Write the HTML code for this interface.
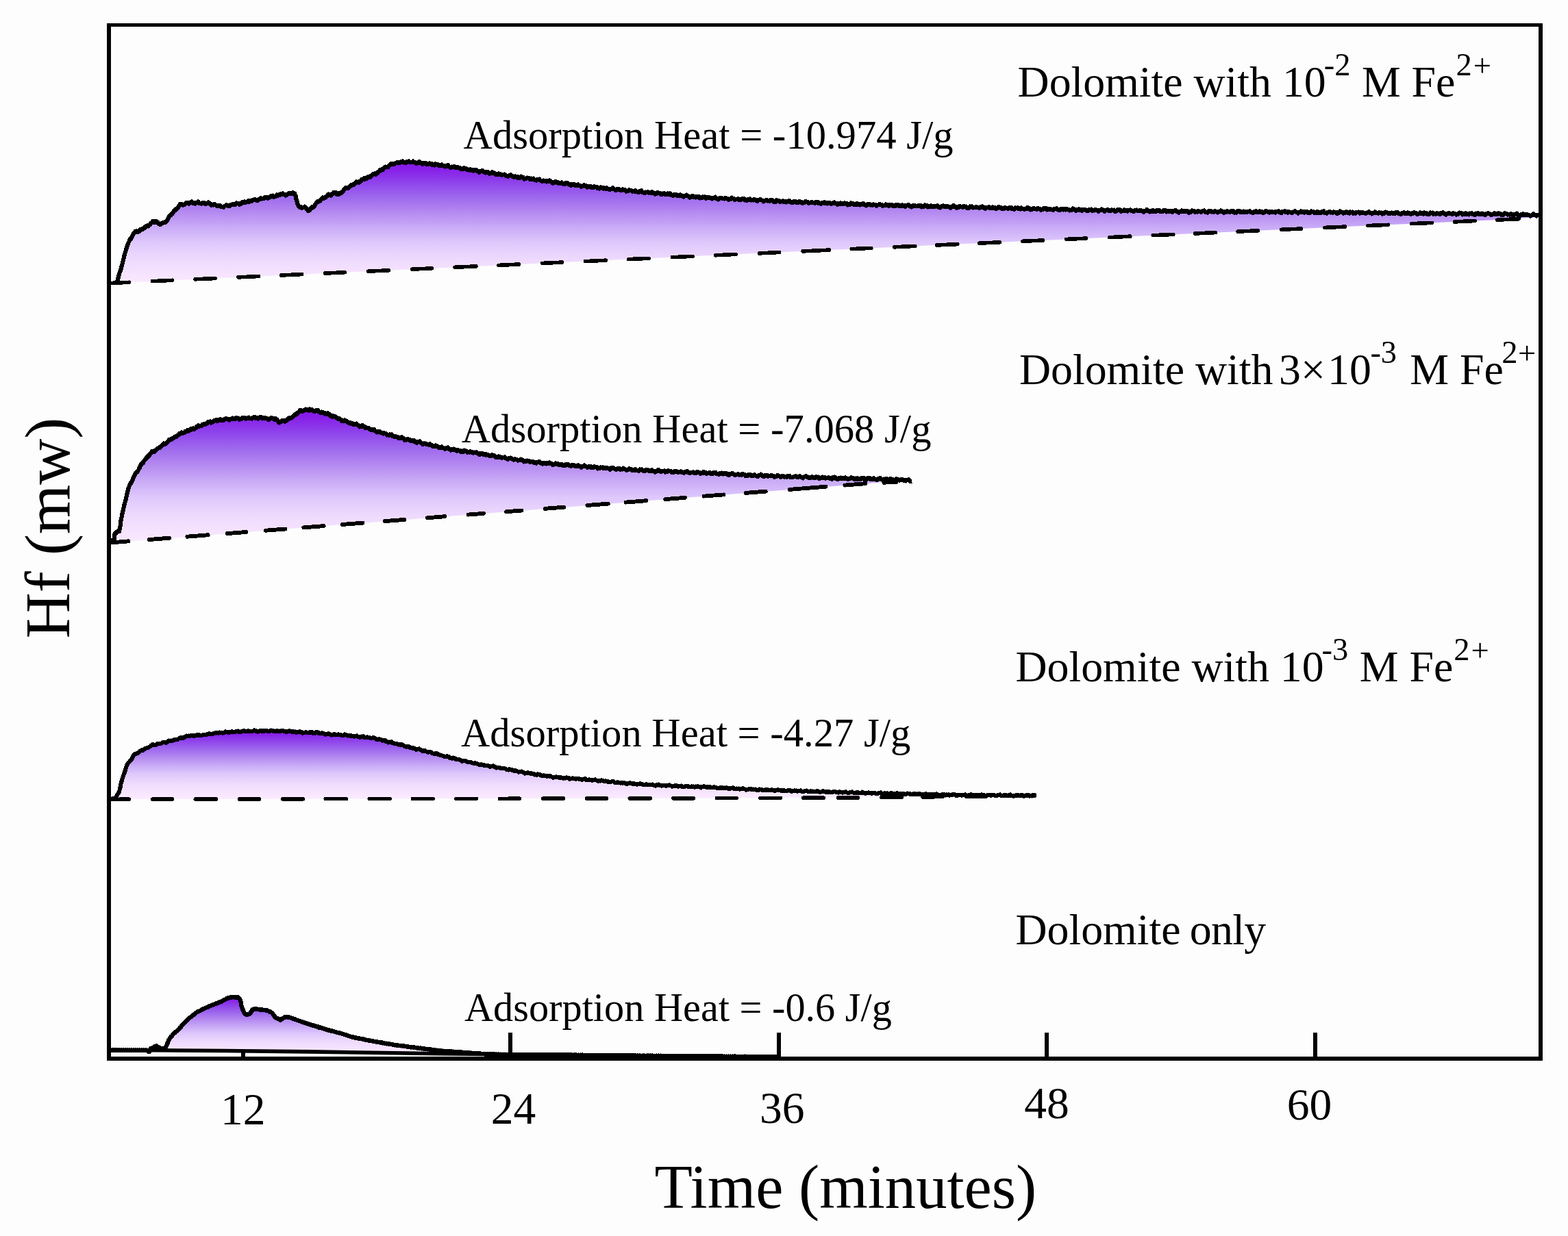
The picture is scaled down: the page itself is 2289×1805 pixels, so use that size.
<!DOCTYPE html>
<html lang="en"><head><meta charset="utf-8"><title>Adsorption heat of dolomite</title>
<style>html,body{margin:0;padding:0;background:#fdfdfd}body{width:2289px;height:1805px;overflow:hidden}svg{display:block}</style></head>
<body>
<svg width="2289" height="1805" viewBox="0 0 2289 1805" role="img" aria-label="Heat flow versus time for dolomite with ferrous ion">
<defs>
<linearGradient id="g1" gradientUnits="userSpaceOnUse" x1="0" y1="237" x2="0" y2="414"><stop offset="0" stop-color="rgb(134,22,232)"/><stop offset="0.06" stop-color="rgb(136,32,232)"/><stop offset="0.16" stop-color="rgb(142,65,235)"/><stop offset="0.29" stop-color="rgb(158,105,237)"/><stop offset="0.41" stop-color="rgb(180,137,240)"/><stop offset="0.54" stop-color="rgb(202,172,247)"/><stop offset="0.66" stop-color="rgb(222,200,252)"/><stop offset="0.8" stop-color="rgb(238,218,253)"/><stop offset="0.92" stop-color="rgb(246,227,254)"/><stop offset="1" stop-color="rgb(250,233,255)"/></linearGradient>
<linearGradient id="g2" gradientUnits="userSpaceOnUse" x1="0" y1="599" x2="0" y2="792"><stop offset="0" stop-color="rgb(134,22,232)"/><stop offset="0.06" stop-color="rgb(136,32,232)"/><stop offset="0.16" stop-color="rgb(142,65,235)"/><stop offset="0.29" stop-color="rgb(158,105,237)"/><stop offset="0.41" stop-color="rgb(180,137,240)"/><stop offset="0.54" stop-color="rgb(202,172,247)"/><stop offset="0.66" stop-color="rgb(222,200,252)"/><stop offset="0.8" stop-color="rgb(238,218,253)"/><stop offset="0.92" stop-color="rgb(246,227,254)"/><stop offset="1" stop-color="rgb(250,233,255)"/></linearGradient>
<linearGradient id="g3" gradientUnits="userSpaceOnUse" x1="0" y1="1066" x2="0" y2="1163"><stop offset="0" stop-color="rgb(134,22,232)"/><stop offset="0.06" stop-color="rgb(136,32,232)"/><stop offset="0.16" stop-color="rgb(142,65,235)"/><stop offset="0.29" stop-color="rgb(158,105,237)"/><stop offset="0.41" stop-color="rgb(180,137,240)"/><stop offset="0.54" stop-color="rgb(202,172,247)"/><stop offset="0.66" stop-color="rgb(222,200,252)"/><stop offset="0.8" stop-color="rgb(238,218,253)"/><stop offset="0.92" stop-color="rgb(246,227,254)"/><stop offset="1" stop-color="rgb(250,233,255)"/></linearGradient>
<linearGradient id="g4" gradientUnits="userSpaceOnUse" x1="0" y1="1455" x2="0" y2="1538"><stop offset="0" stop-color="rgb(134,22,232)"/><stop offset="0.06" stop-color="rgb(136,32,232)"/><stop offset="0.16" stop-color="rgb(142,65,235)"/><stop offset="0.29" stop-color="rgb(158,105,237)"/><stop offset="0.41" stop-color="rgb(180,137,240)"/><stop offset="0.54" stop-color="rgb(202,172,247)"/><stop offset="0.66" stop-color="rgb(222,200,252)"/><stop offset="0.8" stop-color="rgb(238,218,253)"/><stop offset="0.92" stop-color="rgb(246,227,254)"/><stop offset="1" stop-color="rgb(250,233,255)"/></linearGradient>
</defs>
<rect width="2289" height="1805" fill="#fdfdfd"/>
<rect x="352.0" y="1508" width="6" height="38" fill="#000"/>
<rect x="742.0" y="1508" width="6" height="38" fill="#000"/>
<rect x="1134.0" y="1508" width="6" height="38" fill="#000"/>
<rect x="1525.0" y="1508" width="6" height="38" fill="#000"/>
<rect x="1917.0" y="1508" width="6" height="38" fill="#000"/>
<path d="M156 34H2252V1549H156Z M162 39H2246V1543H162Z" fill="#000" fill-rule="evenodd"/>
<path d="M170.9 412.3 L171.8 409.5 L172.6 406.5 L173.2 403.6 L173.9 400.7 L174.6 397.8 L175.5 394.9 L176.4 392.0 L177.3 389.2 L178.2 386.3 L179.1 383.4 L180.1 380.6 L180.7 377.7 L181.4 374.7 L182.1 371.8 L182.8 368.9 L183.7 366.0 L184.5 363.1 L185.3 360.2 L186.3 357.4 L187.6 354.7 L188.9 352.0 L190.2 349.2 L191.7 346.7 L193.2 344.1 L194.9 341.6 L197.1 339.6 L199.4 337.6 L202.3 337.0 L205.1 336.2 L207.7 334.6 L210.2 332.9 L212.8 331.4 L215.3 329.8 L217.9 328.2 L220.4 326.6 L222.9 324.9 L225.5 323.5 L228.5 323.5 L230.5 325.7 L232.6 327.4 L235.6 326.7 L238.5 326.0 L240.7 324.0 L242.9 322.0 L245.0 319.8 L246.8 317.4 L248.7 315.1 L250.6 312.7 L252.5 310.4 L254.4 308.1 L256.5 306.0 L258.6 303.8 L260.6 301.6 L262.9 299.7 L265.7 298.8 L268.6 297.9 L271.5 297.1 L274.4 296.6 L277.4 296.1 L280.4 295.9 L283.4 296.0 L286.4 296.2 L289.4 296.3 L292.4 296.5 L295.4 296.7 L298.4 296.9 L301.4 297.1 L304.4 297.3 L307.3 297.6 L310.2 298.5 L313.1 299.4 L316.0 300.2 L318.9 300.7 L321.9 301.0 L324.9 301.4 L327.8 301.2 L330.8 300.6 L333.7 300.0 L336.7 299.4 L339.6 298.8 L342.6 298.3 L345.5 297.8 L348.5 297.4 L351.5 296.9 L354.4 296.2 L357.3 295.3 L360.2 294.6 L363.1 294.0 L366.1 293.4 L369.0 292.8 L372.0 292.2 L374.9 291.7 L377.9 291.1 L380.8 290.5 L383.7 289.8 L386.7 289.2 L389.6 288.5 L392.5 287.8 L395.5 287.3 L398.4 286.7 L401.4 286.1 L404.3 285.4 L407.2 284.7 L410.1 284.0 L413.1 284.0 L416.1 283.9 L419.1 283.9 L422.1 283.2 L425.0 282.6 L427.9 282.0 L430.4 283.5 L431.5 286.1 L432.3 289.0 L433.1 291.9 L433.9 294.8 L434.8 297.7 L435.6 300.6 L436.5 303.5 L439.4 303.4 L442.2 302.6 L444.9 302.3 L447.0 304.5 L449.1 306.6 L451.3 307.4 L453.5 305.3 L455.7 303.3 L457.8 301.1 L459.8 298.9 L461.9 296.8 L464.3 294.9 L466.7 293.1 L469.0 291.2 L471.4 289.4 L474.1 288.2 L476.8 286.9 L479.5 285.4 L482.2 284.1 L484.9 282.9 L487.7 281.7 L490.4 282.0 L493.0 283.5 L495.4 283.2 L497.7 281.2 L500.0 279.3 L502.3 277.3 L504.8 275.8 L507.4 274.2 L510.0 272.6 L512.5 271.1 L515.1 269.5 L517.8 268.1 L520.4 266.8 L523.1 265.4 L525.8 264.1 L528.5 262.8 L531.3 261.6 L534.0 260.3 L536.7 259.1 L539.5 257.9 L542.2 256.6 L545.0 255.4 L547.7 254.1 L550.2 252.5 L552.7 250.9 L555.2 249.2 L557.8 247.6 L560.3 246.0 L562.9 244.5 L565.6 243.2 L568.3 241.8 L571.0 240.4 L573.8 239.5 L576.7 238.6 L579.5 237.7 L582.5 237.3 L585.5 237.0 L588.5 236.8 L591.5 236.5 L594.5 236.5 L597.5 236.6 L600.5 236.7 L603.5 236.8 L606.5 237.1 L609.4 237.5 L612.4 237.9 L615.4 238.2 L618.4 238.6 L621.4 238.9 L624.4 239.2 L627.4 239.5 L630.3 239.8 L633.3 240.2 L636.3 240.6 L639.3 240.9 L642.3 241.3 L645.3 241.6 L648.2 242.0 L651.2 242.4 L654.2 242.9 L657.1 243.3 L660.1 243.8 L663.1 244.2 L666.1 244.7 L669.0 245.2 L672.0 245.6 L675.0 246.1 L677.9 246.6 L680.9 247.1 L683.9 247.5 L686.8 248.0 L689.8 248.4 L692.8 248.9 L695.7 249.4 L698.7 249.8 L701.7 250.3 L704.6 250.7 L707.6 251.2 L710.6 251.6 L713.6 252.1 L716.5 252.5 L719.5 253.0 L722.5 253.4 L725.4 253.9 L728.4 254.3 L731.4 254.8 L734.3 255.2 L737.3 255.7 L740.3 256.1 L743.3 256.6 L746.2 257.0 L749.2 257.5 L752.2 257.9 L755.1 258.4 L758.1 258.8 L761.1 259.2 L764.1 259.6 L767.0 260.1 L770.0 260.5 L773.0 260.9 L775.9 261.4 L778.9 261.8 L781.9 262.2 L784.9 262.7 L787.8 263.1 L790.8 263.5 L793.8 263.9 L796.8 264.4 L799.7 264.8 L802.7 265.2 L805.7 265.7 L808.6 266.1 L811.6 266.5 L814.6 266.9 L817.6 267.2 L820.6 267.6 L823.5 268.0 L826.5 268.4 L829.5 268.7 L832.5 269.1 L835.5 269.5 L838.5 269.8 L841.4 270.2 L844.4 270.6 L847.4 271.0 L850.4 271.3 L853.4 271.7 L856.3 272.1 L859.3 272.4 L862.3 272.8 L865.3 273.2 L868.3 273.5 L871.3 273.8 L874.2 274.1 L877.2 274.4 L880.2 274.7 L883.2 275.0 L886.2 275.3 L889.2 275.6 L892.2 275.9 L895.2 276.2 L898.2 276.5 L901.1 276.8 L904.1 277.1 L907.1 277.4 L910.1 277.7 L913.1 278.0 L916.1 278.3 L919.1 278.6 L922.1 278.8 L925.1 279.1 L928.1 279.4 L931.1 279.7 L934.0 279.9 L937.0 280.2 L940.0 280.5 L943.0 280.7 L946.0 281.0 L949.0 281.3 L952.0 281.5 L955.0 281.8 L958.0 282.1 L961.0 282.4 L964.0 282.6 L967.0 282.9 L969.9 283.2 L972.9 283.4 L975.9 283.7 L978.9 284.0 L981.9 284.3 L984.9 284.7 L987.9 285.0 L990.9 285.3 L993.8 285.6 L996.8 286.0 L999.8 286.3 L1002.8 286.5 L1005.8 286.7 L1008.8 287.0 L1011.8 287.2 L1014.8 287.4 L1017.8 287.6 L1020.8 287.9 L1023.8 288.1 L1026.8 288.3 L1029.8 288.5 L1032.8 288.7 L1035.8 288.8 L1038.8 289.0 L1041.8 289.1 L1044.8 289.3 L1047.8 289.4 L1050.8 289.6 L1053.8 289.7 L1056.8 289.9 L1059.8 290.0 L1062.8 290.2 L1065.8 290.3 L1068.8 290.5 L1071.8 290.6 L1074.8 290.8 L1077.8 290.9 L1080.8 291.1 L1083.8 291.2 L1086.8 291.3 L1089.8 291.5 L1092.8 291.6 L1095.8 291.8 L1098.8 291.9 L1101.8 292.1 L1104.8 292.2 L1107.8 292.4 L1110.8 292.5 L1113.8 292.7 L1116.8 292.8 L1119.8 293.0 L1122.8 293.1 L1125.8 293.3 L1128.8 293.4 L1131.8 293.6 L1134.8 293.7 L1137.8 293.9 L1140.8 294.0 L1143.8 294.2 L1146.8 294.3 L1149.8 294.5 L1152.8 294.6 L1155.8 294.8 L1158.8 294.9 L1161.8 295.0 L1164.8 295.1 L1167.8 295.2 L1170.8 295.3 L1173.8 295.4 L1176.8 295.5 L1179.8 295.7 L1182.8 295.8 L1185.8 295.9 L1188.8 296.0 L1191.8 296.1 L1194.8 296.2 L1197.8 296.3 L1200.8 296.4 L1203.8 296.5 L1206.8 296.6 L1209.8 296.7 L1212.8 296.8 L1215.8 296.9 L1218.8 297.0 L1221.8 297.2 L1224.8 297.3 L1227.8 297.4 L1230.8 297.5 L1233.8 297.6 L1236.8 297.7 L1239.8 297.8 L1242.8 297.9 L1245.9 298.0 L1248.9 298.1 L1251.9 298.2 L1254.9 298.3 L1257.9 298.4 L1260.9 298.5 L1263.9 298.6 L1266.9 298.7 L1269.9 298.8 L1272.9 298.9 L1275.9 299.1 L1278.9 299.2 L1281.9 299.3 L1284.9 299.4 L1287.9 299.5 L1290.9 299.6 L1293.9 299.7 L1296.9 299.8 L1299.9 299.9 L1302.9 300.0 L1305.9 300.0 L1308.9 300.1 L1311.9 300.2 L1314.9 300.3 L1317.9 300.3 L1320.9 300.4 L1323.9 300.5 L1326.9 300.6 L1329.9 300.6 L1332.9 300.7 L1335.9 300.8 L1338.9 300.9 L1341.9 300.9 L1344.9 301.0 L1347.9 301.1 L1350.9 301.2 L1353.9 301.2 L1356.9 301.3 L1360.0 301.3 L1363.0 301.4 L1366.0 301.5 L1369.0 301.5 L1372.0 301.6 L1375.0 301.6 L1378.0 301.7 L1381.0 301.7 L1384.0 301.8 L1387.0 301.9 L1390.0 301.9 L1393.0 302.0 L1396.0 302.0 L1399.0 302.1 L1402.0 302.2 L1405.0 302.2 L1408.0 302.3 L1411.0 302.3 L1414.0 302.4 L1417.0 302.4 L1420.0 302.5 L1423.0 302.6 L1426.0 302.7 L1429.0 302.8 L1432.0 302.9 L1435.0 303.0 L1438.0 303.1 L1441.0 303.1 L1444.0 303.2 L1447.0 303.3 L1450.0 303.4 L1453.0 303.5 L1456.1 303.6 L1459.1 303.7 L1462.1 303.8 L1465.1 303.9 L1468.1 304.0 L1471.1 304.1 L1474.1 304.2 L1477.1 304.3 L1480.1 304.3 L1483.1 304.4 L1486.1 304.5 L1489.1 304.6 L1492.1 304.6 L1495.1 304.7 L1498.1 304.8 L1501.1 304.8 L1504.1 304.9 L1507.1 304.9 L1510.1 305.0 L1513.1 305.1 L1516.1 305.1 L1519.1 305.2 L1522.1 305.3 L1525.1 305.3 L1528.1 305.4 L1531.1 305.5 L1534.1 305.5 L1537.1 305.6 L1540.1 305.7 L1543.1 305.7 L1546.1 305.8 L1549.1 305.9 L1552.2 305.9 L1555.2 306.0 L1558.2 306.1 L1561.2 306.1 L1564.2 306.2 L1567.2 306.3 L1570.2 306.3 L1573.2 306.4 L1576.2 306.5 L1579.2 306.5 L1582.2 306.6 L1585.2 306.7 L1588.2 306.7 L1591.2 306.8 L1594.2 306.9 L1597.2 306.9 L1600.2 307.0 L1603.2 307.0 L1606.2 307.1 L1609.2 307.1 L1612.2 307.2 L1615.2 307.2 L1618.2 307.2 L1621.2 307.3 L1624.2 307.3 L1627.2 307.4 L1630.2 307.4 L1633.2 307.4 L1636.2 307.5 L1639.3 307.5 L1642.3 307.6 L1645.3 307.6 L1648.3 307.6 L1651.3 307.7 L1654.3 307.7 L1657.3 307.8 L1660.3 307.8 L1663.3 307.8 L1666.3 307.9 L1669.3 307.9 L1672.3 308.0 L1675.3 308.0 L1678.3 308.0 L1681.3 308.1 L1684.3 308.1 L1687.3 308.2 L1690.3 308.2 L1693.3 308.2 L1696.3 308.3 L1699.3 308.3 L1702.3 308.4 L1705.3 308.4 L1708.3 308.4 L1711.3 308.5 L1714.3 308.5 L1717.3 308.6 L1720.4 308.6 L1723.4 308.6 L1726.4 308.7 L1729.4 308.7 L1732.4 308.8 L1735.4 308.8 L1738.4 308.8 L1741.4 308.9 L1744.4 308.9 L1747.4 309.0 L1750.4 309.0 L1753.4 309.0 L1756.4 309.0 L1759.4 309.0 L1762.4 309.1 L1765.4 309.1 L1768.4 309.1 L1771.4 309.1 L1774.4 309.1 L1777.4 309.1 L1780.4 309.1 L1783.4 309.2 L1786.4 309.2 L1789.4 309.2 L1792.4 309.2 L1795.4 309.2 L1798.5 309.2 L1801.5 309.3 L1804.5 309.3 L1807.5 309.3 L1810.5 309.3 L1813.5 309.3 L1816.5 309.3 L1819.5 309.3 L1822.5 309.4 L1825.5 309.4 L1828.5 309.4 L1831.5 309.4 L1834.5 309.4 L1837.5 309.4 L1840.5 309.4 L1843.5 309.5 L1846.5 309.5 L1849.5 309.5 L1852.5 309.5 L1855.5 309.5 L1858.5 309.5 L1861.5 309.5 L1864.5 309.6 L1867.5 309.6 L1870.5 309.6 L1873.5 309.6 L1876.6 309.6 L1879.6 309.6 L1882.6 309.7 L1885.6 309.7 L1888.6 309.7 L1891.6 309.7 L1894.6 309.7 L1897.6 309.7 L1900.6 309.7 L1903.6 309.8 L1906.6 309.8 L1909.6 309.8 L1912.6 309.8 L1915.6 309.8 L1918.6 309.9 L1921.6 309.9 L1924.6 309.9 L1927.6 310.0 L1930.6 310.0 L1933.6 310.0 L1936.6 310.1 L1939.6 310.1 L1942.6 310.2 L1945.6 310.2 L1948.6 310.2 L1951.7 310.3 L1954.7 310.3 L1957.7 310.3 L1960.7 310.4 L1963.7 310.4 L1966.7 310.4 L1969.7 310.5 L1972.7 310.5 L1975.7 310.5 L1978.7 310.6 L1981.7 310.6 L1984.7 310.6 L1987.7 310.7 L1990.7 310.7 L1993.7 310.7 L1996.7 310.8 L1999.7 310.8 L2002.7 310.9 L2005.7 310.9 L2008.7 310.9 L2011.7 311.0 L2014.7 311.0 L2017.7 311.0 L2020.7 311.1 L2023.7 311.1 L2026.7 311.1 L2029.7 311.2 L2032.8 311.2 L2035.8 311.2 L2038.8 311.3 L2041.8 311.3 L2044.8 311.3 L2047.8 311.4 L2050.8 311.4 L2053.8 311.4 L2056.8 311.5 L2059.8 311.5 L2062.8 311.5 L2065.8 311.5 L2068.8 311.6 L2071.8 311.6 L2074.8 311.6 L2077.8 311.7 L2080.8 311.7 L2083.8 311.7 L2086.8 311.7 L2089.8 311.8 L2092.8 311.8 L2095.8 311.8 L2098.8 311.9 L2101.8 311.9 L2104.8 311.9 L2107.8 311.9 L2110.9 312.0 L2113.9 312.0 L2116.9 312.0 L2119.9 312.1 L2122.9 312.1 L2125.9 312.1 L2128.9 312.1 L2131.9 312.2 L2134.9 312.2 L2137.9 312.2 L2140.9 312.2 L2143.9 312.3 L2146.9 312.3 L2149.9 312.3 L2152.9 312.4 L2155.9 312.4 L2158.9 312.4 L2161.9 312.4 L2164.9 312.5 L2167.9 312.5 L2170.9 312.5 L2173.9 312.6 L2176.9 312.6 L2179.9 312.6 L2182.9 312.6 L2185.9 312.7 L2189.0 312.7 L2192.0 312.7 L2195.0 312.8 L2198.0 312.8 L2201.0 312.8 L2204.0 312.9 L2207.0 313.0 L2210.0 313.1 L2213.0 313.3 L2216.0 313.4 L2219.0 313.5 L2222.0 313.6 L2225.0 313.7 L2228.0 313.8 L2231.0 313.9 L2234.0 314.0 L2237.0 314.1 L2240.0 314.2 L2243.0 314.3 L2246.0 314.4 L2246.0 317.0 L2186.0 321.0 L1320.0 360.1 L162.0 413.5 Z" fill="url(#g1)"/>
<path d="M162.0 792.0 L164.4 790.2 L166.6 788.4 L166.9 785.4 L167.2 782.4 L167.5 779.4 L170.1 777.9 L172.7 776.4 L174.2 774.1 L174.8 771.1 L175.5 768.2 L175.7 765.2 L175.9 762.2 L176.5 759.3 L177.1 756.3 L177.8 753.4 L178.4 750.5 L179.1 747.6 L179.9 744.6 L180.7 741.7 L181.4 738.8 L182.1 735.9 L182.8 733.0 L183.4 730.0 L184.0 727.1 L184.7 724.2 L185.4 721.3 L186.1 718.3 L186.8 715.4 L187.6 712.5 L188.9 709.8 L190.2 707.1 L191.5 704.4 L192.7 701.7 L194.1 699.0 L195.6 696.4 L197.0 693.7 L198.5 691.1 L199.9 688.5 L201.6 686.0 L203.2 683.5 L204.9 680.9 L206.5 678.4 L208.2 675.9 L210.0 673.6 L211.9 671.2 L213.8 668.9 L215.6 666.5 L217.5 664.2 L219.9 662.4 L222.4 660.6 L224.8 658.9 L227.3 657.2 L229.8 655.5 L232.2 653.8 L234.7 652.1 L237.1 650.3 L239.6 648.6 L242.0 646.8 L244.5 645.1 L246.9 643.4 L249.5 641.8 L252.0 640.2 L254.5 638.6 L257.1 636.9 L259.7 635.5 L262.4 634.2 L265.1 632.9 L267.8 631.6 L270.5 630.3 L273.4 629.3 L276.2 628.2 L279.0 627.2 L281.8 626.1 L284.6 625.0 L287.3 623.8 L290.1 622.6 L292.9 621.4 L295.6 620.3 L298.5 619.3 L301.3 618.3 L304.1 617.3 L307.0 616.3 L309.9 615.6 L312.8 615.0 L315.8 614.4 L318.7 613.8 L321.7 613.3 L324.7 613.0 L327.6 612.6 L330.6 612.3 L333.6 612.0 L336.6 611.9 L339.6 611.7 L342.6 611.6 L345.6 611.4 L348.6 611.3 L351.6 611.1 L354.6 611.0 L357.6 610.9 L360.6 610.8 L363.6 610.6 L366.6 610.5 L369.6 610.4 L372.6 610.3 L375.6 610.2 L378.6 610.1 L381.6 610.0 L384.6 610.5 L387.6 610.9 L390.5 611.3 L393.6 611.4 L396.6 611.4 L399.6 611.5 L402.5 611.5 L404.6 613.8 L406.6 616.0 L409.2 616.1 L412.1 615.3 L415.0 614.5 L417.9 613.6 L420.6 612.3 L423.2 611.0 L425.9 609.6 L428.4 608.0 L430.7 606.0 L432.9 604.0 L435.3 602.2 L438.0 600.8 L440.7 599.6 L443.6 598.9 L446.6 598.5 L449.6 598.4 L452.6 598.5 L455.5 599.0 L458.5 599.5 L461.4 600.1 L464.4 600.8 L467.3 601.5 L470.2 602.3 L473.1 603.0 L475.9 604.0 L478.8 605.0 L481.6 606.0 L484.4 607.0 L487.3 608.0 L490.0 609.3 L492.7 610.6 L495.4 611.9 L498.1 613.1 L500.8 614.4 L503.7 615.3 L506.6 616.2 L509.5 617.0 L512.3 617.9 L515.2 618.7 L518.1 619.5 L521.0 620.3 L523.9 621.1 L526.8 621.9 L529.7 622.8 L532.5 623.8 L535.4 624.8 L538.2 625.7 L541.0 626.7 L543.9 627.7 L546.7 628.6 L549.6 629.5 L552.5 630.5 L555.3 631.4 L558.2 632.3 L561.1 633.1 L564.0 633.9 L566.9 634.7 L569.8 635.5 L572.7 636.3 L575.6 637.1 L578.4 637.9 L581.3 638.7 L584.2 639.5 L587.2 640.2 L590.1 640.9 L593.0 641.6 L595.9 642.3 L598.8 643.0 L601.8 643.7 L604.7 644.4 L607.6 645.1 L610.5 645.7 L613.5 646.4 L616.4 647.1 L619.3 647.8 L622.2 648.5 L625.2 649.2 L628.1 649.9 L631.0 650.6 L633.9 651.2 L636.9 651.9 L639.8 652.6 L642.7 653.1 L645.7 653.7 L648.6 654.3 L651.6 654.8 L654.5 655.4 L657.5 655.9 L660.4 656.5 L663.4 657.0 L666.4 657.6 L669.3 658.0 L672.3 658.4 L675.3 658.7 L678.3 659.1 L681.2 659.5 L684.2 659.9 L687.2 660.2 L690.2 660.6 L693.1 661.2 L696.1 661.7 L699.1 662.2 L702.0 662.7 L705.0 663.2 L707.9 663.8 L710.9 664.3 L713.9 664.8 L716.8 665.3 L719.8 665.8 L722.7 666.4 L725.7 666.9 L728.6 667.4 L731.6 667.9 L734.6 668.4 L737.5 668.9 L740.5 669.3 L743.5 669.7 L746.5 670.2 L749.4 670.6 L752.4 671.1 L755.4 671.5 L758.3 671.9 L761.3 672.4 L764.3 672.8 L767.3 673.2 L770.2 673.7 L773.2 674.1 L776.2 674.5 L779.1 674.9 L782.1 675.2 L785.1 675.5 L788.1 675.7 L791.1 676.0 L794.1 676.3 L797.1 676.5 L800.1 676.8 L803.1 677.1 L806.1 677.3 L809.1 677.6 L812.1 677.8 L815.1 678.1 L818.0 678.4 L821.0 678.6 L824.0 678.9 L827.0 679.1 L830.0 679.4 L833.0 679.6 L836.0 679.9 L839.0 680.1 L842.0 680.4 L845.0 680.6 L848.0 680.9 L851.0 681.1 L854.0 681.4 L857.0 681.6 L860.0 681.9 L862.9 682.1 L865.9 682.4 L868.9 682.6 L871.9 682.8 L874.9 683.0 L877.9 683.2 L880.9 683.4 L883.9 683.6 L886.9 683.8 L889.9 684.0 L892.9 684.2 L895.9 684.4 L898.9 684.6 L901.9 684.8 L904.9 685.0 L907.9 685.2 L910.9 685.4 L913.9 685.5 L916.9 685.7 L919.9 685.8 L922.9 686.0 L925.9 686.1 L928.9 686.3 L931.9 686.5 L934.9 686.6 L937.9 686.8 L940.9 686.9 L943.9 687.1 L946.9 687.2 L949.9 687.4 L952.9 687.5 L955.9 687.7 L958.9 687.8 L961.9 688.0 L964.9 688.1 L967.9 688.2 L970.9 688.3 L973.9 688.5 L976.9 688.6 L979.9 688.7 L982.9 688.9 L985.9 689.0 L988.9 689.1 L991.9 689.2 L994.9 689.4 L997.9 689.5 L1000.9 689.6 L1003.9 689.7 L1006.9 689.9 L1009.9 690.0 L1012.9 690.1 L1015.9 690.2 L1018.9 690.4 L1021.9 690.5 L1024.9 690.6 L1027.9 690.7 L1030.9 690.8 L1033.9 691.0 L1036.9 691.1 L1039.9 691.2 L1042.9 691.3 L1045.9 691.4 L1048.9 691.6 L1051.9 691.7 L1054.9 691.8 L1057.9 691.9 L1060.9 692.1 L1063.9 692.2 L1066.9 692.4 L1069.9 692.5 L1072.9 692.7 L1075.9 692.9 L1078.9 693.0 L1081.9 693.2 L1084.9 693.4 L1087.9 693.5 L1090.9 693.7 L1093.9 693.9 L1096.9 694.0 L1099.9 694.2 L1102.9 694.3 L1105.9 694.4 L1108.9 694.5 L1111.9 694.6 L1114.9 694.7 L1117.9 694.8 L1120.9 694.9 L1123.9 695.0 L1126.9 695.1 L1129.9 695.2 L1133.0 695.3 L1136.0 695.4 L1139.0 695.5 L1142.0 695.6 L1145.0 695.7 L1148.0 695.8 L1151.0 695.9 L1154.0 696.0 L1157.0 696.1 L1160.0 696.2 L1163.0 696.3 L1166.0 696.4 L1169.0 696.5 L1172.0 696.6 L1175.0 696.8 L1178.0 696.9 L1181.0 697.0 L1184.0 697.1 L1187.0 697.2 L1190.0 697.3 L1193.0 697.4 L1196.0 697.6 L1199.0 697.7 L1202.0 697.8 L1205.0 697.9 L1208.0 698.0 L1211.0 698.1 L1214.0 698.2 L1217.0 698.3 L1220.0 698.4 L1223.0 698.4 L1226.0 698.5 L1229.0 698.5 L1232.0 698.6 L1235.0 698.6 L1238.0 698.7 L1241.0 698.7 L1244.0 698.8 L1247.0 698.8 L1250.0 698.9 L1253.0 699.0 L1256.0 699.0 L1259.0 699.1 L1262.1 699.1 L1265.1 699.2 L1268.1 699.2 L1271.1 699.3 L1274.1 699.3 L1277.1 699.4 L1280.1 699.5 L1283.1 699.6 L1286.1 699.7 L1289.1 699.9 L1292.1 700.0 L1295.1 700.1 L1298.1 700.2 L1301.1 700.3 L1304.1 700.4 L1307.1 700.5 L1310.1 700.6 L1313.1 700.7 L1316.1 700.8 L1319.1 700.9 L1322.1 701.3 L1325.0 701.7 L1328.0 702.1 L1331.0 702.5 L1296.0 703.5 L1266.0 706.2 L162.0 792.6 Z" fill="url(#g2)"/>
<path d="M162.0 1167.4 L164.9 1166.8 L167.9 1166.2 L169.8 1164.1 L171.2 1161.5 L172.7 1158.8 L174.0 1156.2 L174.6 1153.2 L175.3 1150.3 L175.9 1147.3 L176.5 1144.4 L177.2 1141.5 L178.2 1138.7 L179.3 1135.8 L180.3 1133.0 L181.3 1130.2 L182.3 1127.3 L183.1 1124.4 L183.8 1121.5 L184.6 1118.6 L185.6 1115.8 L187.7 1113.7 L189.8 1111.6 L191.5 1109.1 L193.1 1106.5 L194.6 1103.9 L196.9 1102.1 L199.4 1100.3 L201.8 1098.6 L204.5 1097.2 L207.2 1095.9 L209.9 1094.5 L212.5 1093.2 L215.2 1091.8 L217.9 1090.5 L220.6 1089.1 L223.4 1088.0 L226.3 1087.4 L229.3 1086.8 L232.2 1086.2 L235.1 1085.5 L238.0 1084.8 L241.0 1084.0 L243.9 1083.3 L246.8 1082.6 L249.7 1081.8 L252.6 1081.1 L255.5 1080.3 L258.4 1079.5 L261.3 1078.6 L264.2 1077.7 L267.0 1076.9 L269.9 1076.0 L272.8 1075.2 L275.7 1074.5 L278.7 1074.4 L281.7 1074.2 L284.7 1074.1 L287.7 1073.9 L290.7 1073.7 L293.7 1073.6 L296.7 1073.3 L299.7 1072.9 L302.7 1072.4 L305.7 1072.0 L308.6 1071.5 L311.6 1071.1 L314.6 1070.6 L317.6 1070.3 L320.6 1070.1 L323.6 1069.9 L326.6 1069.7 L329.6 1069.5 L332.6 1069.3 L335.6 1069.1 L338.6 1068.9 L341.6 1068.7 L344.6 1068.5 L347.6 1068.3 L350.6 1068.2 L353.6 1068.0 L356.6 1067.8 L359.6 1067.7 L362.6 1067.7 L365.6 1067.6 L368.6 1067.6 L371.6 1067.6 L374.6 1067.5 L377.6 1067.5 L380.6 1067.5 L383.6 1067.5 L386.6 1067.4 L389.6 1067.4 L392.6 1067.4 L395.6 1067.3 L398.6 1067.3 L401.7 1067.4 L404.7 1067.5 L407.7 1067.5 L410.7 1067.6 L413.7 1067.7 L416.7 1067.8 L419.7 1067.9 L422.7 1068.1 L425.7 1068.3 L428.7 1068.5 L431.7 1068.7 L434.7 1069.0 L437.7 1069.2 L440.7 1069.4 L443.7 1069.5 L446.7 1069.6 L449.7 1069.7 L452.7 1069.7 L455.7 1069.8 L458.7 1069.9 L461.7 1070.0 L464.7 1070.4 L467.7 1070.7 L470.7 1071.1 L473.7 1071.4 L476.6 1071.8 L479.6 1072.2 L482.6 1072.5 L485.6 1072.7 L488.6 1072.8 L491.6 1072.9 L494.6 1073.1 L497.6 1073.2 L500.6 1073.4 L503.6 1073.5 L506.6 1073.8 L509.6 1074.1 L512.6 1074.4 L515.6 1074.8 L518.6 1075.1 L521.6 1075.4 L524.6 1075.7 L527.6 1076.0 L530.5 1076.3 L533.5 1076.6 L536.5 1076.9 L539.5 1077.2 L542.5 1077.5 L545.5 1077.9 L548.4 1078.6 L551.3 1079.4 L554.2 1080.1 L557.1 1080.8 L560.1 1081.5 L563.0 1082.3 L565.9 1083.0 L568.8 1083.7 L571.7 1084.5 L574.6 1085.2 L577.6 1085.9 L580.5 1086.6 L583.4 1087.4 L586.3 1088.1 L589.2 1088.9 L592.1 1089.7 L595.0 1090.5 L597.9 1091.2 L600.8 1092.0 L603.8 1092.7 L606.7 1093.4 L609.6 1094.2 L612.5 1094.9 L615.4 1095.6 L618.3 1096.4 L621.2 1097.1 L624.2 1097.8 L627.1 1098.6 L630.0 1099.3 L632.9 1100.1 L635.8 1100.8 L638.7 1101.6 L641.6 1102.3 L644.5 1103.1 L647.5 1103.8 L650.4 1104.6 L653.3 1105.3 L656.2 1106.0 L659.1 1106.8 L662.0 1107.5 L664.9 1108.2 L667.9 1109.0 L670.8 1109.7 L673.7 1110.4 L676.6 1111.1 L679.5 1111.8 L682.5 1112.5 L685.4 1113.2 L688.3 1113.8 L691.3 1114.4 L694.2 1115.0 L697.2 1115.6 L700.1 1116.3 L703.1 1116.9 L706.0 1117.4 L709.0 1117.9 L712.0 1118.4 L714.9 1118.8 L717.9 1119.3 L720.9 1119.8 L723.8 1120.2 L726.8 1120.8 L729.7 1121.3 L732.7 1121.9 L735.6 1122.5 L738.6 1123.0 L741.6 1123.6 L744.5 1124.2 L747.5 1124.7 L750.4 1125.3 L753.4 1125.9 L756.3 1126.5 L759.3 1127.1 L762.2 1127.7 L765.2 1128.2 L768.1 1128.8 L771.1 1129.2 L774.1 1129.7 L777.0 1130.1 L780.0 1130.5 L783.0 1131.0 L786.0 1131.4 L788.9 1131.9 L791.9 1132.3 L794.9 1132.8 L797.8 1133.2 L800.8 1133.6 L803.8 1134.1 L806.8 1134.5 L809.7 1134.9 L812.7 1135.1 L815.7 1135.4 L818.7 1135.6 L821.7 1135.9 L824.7 1136.1 L827.7 1136.4 L830.7 1136.6 L833.7 1136.8 L836.7 1137.0 L839.7 1137.2 L842.7 1137.4 L845.7 1137.6 L848.7 1137.8 L851.7 1138.0 L854.7 1138.3 L857.7 1138.5 L860.7 1138.8 L863.7 1139.0 L866.7 1139.3 L869.7 1139.5 L872.7 1139.8 L875.7 1140.1 L878.7 1140.4 L881.7 1140.7 L884.7 1141.0 L887.6 1141.3 L890.6 1141.6 L893.6 1141.9 L896.6 1142.2 L899.6 1142.5 L902.6 1142.8 L905.6 1143.1 L908.6 1143.4 L911.6 1143.7 L914.6 1143.9 L917.6 1144.1 L920.6 1144.4 L923.6 1144.6 L926.6 1144.8 L929.6 1145.0 L932.6 1145.2 L935.6 1145.3 L938.6 1145.5 L941.6 1145.6 L944.6 1145.8 L947.6 1146.0 L950.6 1146.1 L953.6 1146.3 L956.6 1146.4 L959.6 1146.6 L962.6 1146.7 L965.6 1146.9 L968.6 1147.0 L971.6 1147.2 L974.6 1147.3 L977.6 1147.4 L980.6 1147.6 L983.6 1147.7 L986.6 1147.9 L989.6 1148.0 L992.6 1148.2 L995.6 1148.3 L998.6 1148.4 L1001.6 1148.5 L1004.6 1148.6 L1007.6 1148.7 L1010.7 1148.8 L1013.7 1148.9 L1016.7 1149.0 L1019.7 1149.1 L1022.7 1149.2 L1025.7 1149.3 L1028.7 1149.4 L1031.7 1149.5 L1034.7 1149.6 L1037.7 1149.8 L1040.7 1149.9 L1043.7 1150.1 L1046.7 1150.2 L1049.7 1150.4 L1052.7 1150.6 L1055.7 1150.7 L1058.7 1150.9 L1061.7 1151.0 L1064.7 1151.2 L1067.7 1151.3 L1070.7 1151.5 L1073.7 1151.6 L1076.7 1151.8 L1079.7 1151.9 L1082.7 1152.1 L1085.7 1152.2 L1088.7 1152.4 L1091.7 1152.5 L1094.7 1152.7 L1097.7 1152.8 L1100.7 1153.0 L1103.7 1153.1 L1106.7 1153.3 L1109.7 1153.4 L1112.8 1153.6 L1115.8 1153.6 L1118.8 1153.7 L1121.8 1153.8 L1124.8 1153.9 L1127.8 1154.0 L1130.8 1154.1 L1133.8 1154.2 L1136.8 1154.3 L1139.8 1154.4 L1142.8 1154.5 L1145.8 1154.5 L1148.8 1154.6 L1151.8 1154.7 L1154.8 1154.8 L1157.8 1154.9 L1160.8 1155.0 L1163.8 1155.1 L1166.8 1155.2 L1169.8 1155.3 L1172.9 1155.3 L1175.9 1155.4 L1178.9 1155.5 L1181.9 1155.6 L1184.9 1155.7 L1187.9 1155.8 L1190.9 1155.9 L1193.9 1156.0 L1196.9 1156.1 L1199.9 1156.2 L1202.9 1156.2 L1205.9 1156.3 L1208.9 1156.4 L1211.9 1156.5 L1214.9 1156.6 L1217.9 1156.7 L1220.9 1156.8 L1223.9 1156.9 L1226.9 1156.9 L1230.0 1157.0 L1233.0 1157.1 L1236.0 1157.2 L1239.0 1157.3 L1242.0 1157.3 L1245.0 1157.4 L1248.0 1157.5 L1251.0 1157.6 L1254.0 1157.7 L1257.0 1157.7 L1260.0 1157.8 L1263.0 1157.9 L1266.0 1158.0 L1269.0 1158.1 L1272.0 1158.1 L1275.0 1158.2 L1278.0 1158.3 L1281.0 1158.4 L1284.0 1158.5 L1287.1 1158.5 L1290.1 1158.6 L1293.1 1158.7 L1296.1 1158.8 L1299.1 1158.9 L1302.1 1158.9 L1305.1 1159.0 L1308.1 1159.1 L1311.1 1159.1 L1314.1 1159.2 L1317.1 1159.3 L1320.1 1159.4 L1323.1 1159.4 L1326.1 1159.5 L1329.1 1159.6 L1332.1 1159.6 L1335.1 1159.7 L1338.1 1159.8 L1341.2 1159.8 L1344.2 1159.9 L1347.2 1160.0 L1350.2 1160.0 L1353.2 1160.1 L1356.2 1160.2 L1359.2 1160.2 L1362.2 1160.3 L1365.2 1160.4 L1368.2 1160.5 L1371.2 1160.5 L1374.2 1160.6 L1377.2 1160.7 L1380.2 1160.7 L1383.2 1160.8 L1386.2 1160.9 L1389.2 1160.9 L1392.2 1160.9 L1395.3 1161.0 L1398.3 1161.0 L1401.3 1161.0 L1404.3 1161.0 L1407.3 1161.0 L1410.3 1161.1 L1413.3 1161.1 L1416.3 1161.1 L1419.3 1161.1 L1422.3 1161.1 L1425.3 1161.2 L1428.3 1161.2 L1431.3 1161.2 L1434.3 1161.2 L1437.3 1161.3 L1440.3 1161.3 L1443.4 1161.3 L1446.4 1161.3 L1449.4 1161.3 L1452.4 1161.4 L1455.4 1161.4 L1458.4 1161.4 L1461.4 1161.4 L1464.4 1161.5 L1467.4 1161.5 L1470.4 1161.5 L1473.4 1161.5 L1476.4 1161.5 L1479.4 1161.6 L1482.4 1161.6 L1485.4 1161.6 L1488.4 1161.6 L1491.5 1161.6 L1494.5 1161.7 L1497.5 1161.7 L1500.5 1161.7 L1503.5 1161.7 L1506.5 1161.8 L1509.5 1161.8 L1512.5 1161.8 L1512.0 1162.5 L1300.0 1164.0 L1000.0 1165.6 L162.0 1167.0 Z" fill="url(#g3)"/>
<path d="M162.1 1533.6 L165.1 1533.6 L168.1 1533.6 L171.1 1533.7 L174.1 1533.7 L177.1 1533.7 L180.1 1533.7 L183.1 1533.7 L186.1 1533.7 L189.2 1533.8 L192.2 1533.8 L195.2 1533.8 L198.2 1533.8 L201.2 1533.8 L204.2 1533.8 L207.2 1533.9 L210.2 1533.9 L213.2 1533.9 L215.8 1534.9 L218.0 1536.3 L218.9 1533.4 L220.4 1531.1 L223.2 1529.9 L225.9 1528.6 L228.6 1527.6 L231.2 1529.1 L233.9 1530.6 L236.7 1531.4 L239.5 1531.5 L241.7 1529.5 L243.1 1526.8 L244.2 1524.1 L245.4 1521.3 L246.6 1518.5 L248.2 1516.0 L250.0 1513.6 L251.9 1511.2 L254.1 1509.2 L256.3 1507.2 L258.6 1505.2 L260.7 1503.1 L262.7 1500.9 L264.8 1498.7 L266.8 1496.4 L268.8 1494.3 L271.0 1492.1 L273.1 1490.0 L275.2 1487.9 L277.5 1485.9 L279.9 1484.1 L282.2 1482.2 L284.6 1480.3 L286.9 1478.5 L289.6 1477.1 L292.3 1475.7 L294.9 1474.4 L297.6 1473.0 L300.4 1471.8 L303.1 1470.6 L305.9 1469.4 L308.6 1468.2 L311.4 1467.0 L314.2 1465.9 L317.0 1464.8 L319.8 1463.8 L322.6 1462.7 L325.4 1461.5 L328.0 1460.0 L330.5 1458.4 L333.2 1457.1 L336.2 1456.7 L339.1 1456.2 L342.1 1456.1 L345.1 1456.4 L348.1 1456.7 L349.9 1458.9 L351.3 1461.6 L351.7 1464.5 L352.2 1467.5 L352.7 1470.5 L353.9 1473.2 L355.1 1476.0 L356.4 1478.7 L357.6 1481.4 L360.6 1481.4 L363.6 1481.4 L365.4 1479.2 L367.0 1476.7 L369.0 1474.6 L371.8 1473.5 L374.7 1473.6 L377.7 1474.0 L380.7 1474.4 L383.7 1474.7 L386.6 1475.1 L389.6 1475.6 L392.3 1476.8 L395.1 1478.1 L397.6 1479.6 L399.3 1482.0 L401.0 1484.5 L403.0 1486.6 L405.8 1487.7 L408.6 1488.9 L411.1 1488.6 L413.4 1486.7 L416.0 1485.4 L419.0 1485.4 L422.0 1485.6 L424.8 1486.6 L427.6 1487.6 L430.4 1488.6 L433.3 1489.7 L436.1 1490.6 L438.9 1491.6 L441.8 1492.6 L444.6 1493.6 L447.5 1494.6 L450.3 1495.5 L453.2 1496.4 L456.1 1497.3 L458.9 1498.1 L461.8 1499.0 L464.7 1499.9 L467.6 1500.7 L470.5 1501.6 L473.3 1502.5 L476.2 1503.3 L479.1 1504.2 L482.0 1505.0 L484.9 1505.8 L487.8 1506.5 L490.7 1507.3 L493.6 1508.0 L496.5 1508.8 L499.4 1509.6 L502.3 1510.5 L505.1 1511.5 L507.9 1512.5 L510.8 1513.6 L513.7 1514.4 L516.6 1515.0 L519.5 1515.6 L522.5 1516.2 L525.4 1516.7 L528.4 1517.3 L531.3 1517.9 L534.3 1518.5 L537.2 1519.1 L540.2 1519.7 L543.1 1520.3 L546.1 1520.9 L549.0 1521.4 L552.0 1521.9 L555.0 1522.4 L557.9 1522.9 L560.9 1523.4 L563.8 1523.9 L566.8 1524.4 L569.8 1525.0 L572.7 1525.5 L575.7 1526.0 L578.7 1526.4 L581.6 1526.8 L584.6 1527.2 L587.6 1527.6 L590.6 1527.9 L593.6 1528.3 L596.6 1528.7 L599.5 1529.1 L602.5 1529.4 L605.5 1529.8 L608.5 1530.2 L611.5 1530.6 L614.4 1530.9 L617.4 1531.3 L620.4 1531.7 L623.4 1532.0 L626.4 1532.4 L629.4 1532.8 L632.3 1533.2 L635.3 1533.5 L638.3 1533.9 L641.3 1534.3 L644.3 1534.5 L647.3 1534.7 L650.3 1535.0 L653.3 1535.2 L656.3 1535.4 L659.3 1535.7 L662.3 1535.9 L665.3 1536.1 L668.3 1536.4 L671.3 1536.6 L674.3 1536.8 L677.3 1537.0 L680.2 1537.3 L683.2 1537.5 L686.2 1537.7 L689.2 1537.9 L692.2 1538.2 L695.2 1538.4 L698.2 1538.6 L701.2 1538.8 L704.2 1539.1 L707.2 1539.2 L710.2 1539.3 L713.2 1539.4 L716.2 1539.5 L719.2 1539.6 L722.2 1539.7 L725.3 1539.8 L728.3 1540.0 L731.3 1540.1 L734.3 1540.2 L737.3 1540.3 L740.3 1540.3 L743.3 1540.3 L746.3 1540.3 L749.3 1540.3 L752.3 1540.3 L755.3 1540.3 L758.3 1540.3 L761.3 1540.3 L764.3 1540.3 L767.3 1540.3 L770.3 1540.3 L773.3 1540.3 L776.3 1540.4 L779.3 1540.4 L782.4 1540.4 L785.4 1540.4 L788.4 1540.4 L791.4 1540.4 L794.4 1540.4 L797.4 1540.4 L800.4 1540.4 L803.4 1540.4 L806.4 1540.4 L809.4 1540.4 L812.4 1540.4 L815.4 1540.5 L818.4 1540.5 L821.4 1540.5 L824.4 1540.6 L827.4 1540.6 L830.4 1540.6 L833.4 1540.7 L836.5 1540.7 L839.5 1540.8 L842.5 1540.8 L845.5 1540.8 L848.5 1540.9 L851.5 1540.9 L854.5 1540.9 L857.5 1541.0 L860.5 1541.0 L863.5 1541.1 L866.5 1541.1 L869.5 1541.1 L872.5 1541.2 L875.5 1541.2 L878.5 1541.2 L881.5 1541.3 L884.5 1541.3 L887.5 1541.3 L890.5 1541.4 L893.6 1541.4 L896.6 1541.5 L899.6 1541.5 L902.6 1541.5 L905.6 1541.5 L908.6 1541.6 L911.6 1541.6 L914.6 1541.6 L917.6 1541.6 L920.6 1541.7 L923.6 1541.7 L926.6 1541.7 L929.6 1541.7 L932.6 1541.8 L935.6 1541.8 L938.6 1541.8 L941.6 1541.8 L944.6 1541.8 L947.7 1541.9 L950.7 1541.9 L953.7 1541.9 L956.7 1541.9 L959.7 1542.0 L962.7 1542.0 L965.7 1542.0 L968.7 1542.0 L971.7 1542.1 L974.7 1542.1 L977.7 1542.1 L980.7 1542.1 L983.7 1542.1 L986.7 1542.2 L989.7 1542.2 L992.7 1542.2 L995.7 1542.2 L998.7 1542.3 L1001.8 1542.3 L1004.8 1542.3 L1007.8 1542.3 L1010.8 1542.4 L1013.8 1542.4 L1016.8 1542.4 L1019.8 1542.4 L1022.8 1542.5 L1025.8 1542.5 L1028.8 1542.5 L1031.8 1542.5 L1034.8 1542.5 L1037.8 1542.6 L1040.8 1542.6 L1043.8 1542.6 L1046.8 1542.6 L1049.8 1542.7 L1052.8 1542.7 L1055.9 1542.7 L1058.9 1542.7 L1061.9 1542.8 L1064.9 1542.8 L1067.9 1542.8 L1070.9 1542.8 L1073.9 1542.9 L1076.9 1542.9 L1079.9 1543.0 L1082.9 1543.0 L1085.9 1543.0 L1088.9 1543.1 L1091.9 1543.1 L1094.9 1543.2 L1097.9 1543.2 L1100.9 1543.2 L1103.9 1543.3 L1106.9 1543.3 L1110.0 1543.3 L1113.0 1543.4 L1116.0 1543.4 L1119.0 1543.5 L1122.0 1543.5 L1125.0 1543.5 L1128.0 1543.6 L1131.0 1543.6 L1134.0 1543.7 L1137.0 1543.7 L760.0 1540.8 L737.0 1539.6 L641.6 1538.7 L576.9 1537.7 L451.0 1535.9 L326.0 1534.5 L162.0 1533.3 Z" fill="url(#g4)"/>
<path d="M162.5 413.4L188.4 412.3M222.4 410.7L251.6 409.3M285.2 407.8L314.0 406.5M348.0 404.9L377.7 403.5M410.7 402.0L440.5 400.6M474.4 399.1L503.3 397.7M537.7 396.2L567.5 394.8M601.5 393.2L630.3 391.9M664.2 390.3L694.9 388.9M728.0 387.4L757.7 386.0M791.7 384.4L820.5 383.1M854.4 381.6L884.2 380.2M917.7 378.6L946.9 377.3M981.4 375.7L1010.9 374.3M1044.4 372.8L1073.9 371.4M1108.4 369.9L1137.6 368.5M1172.1 366.9L1210.7 365.1M1243.2 363.6L1271.8 362.3M1305.6 360.8L1335.7 359.4M1367.6 358.0L1397.8 356.6M1429.7 355.2L1459.5 353.8M1493.0 352.3L1522.2 351.0M1556.7 349.4L1585.6 348.1M1619.6 346.6L1649.8 345.2M1683.3 343.7L1712.8 342.4M1744.7 341.0L1774.3 339.6M1807.1 338.1L1836.6 336.8M1870.8 335.3L1899.7 334.0M1933.8 332.4L1963.3 331.1M1996.8 329.6L2026.4 328.3M2060.5 326.7L2090.4 325.4M2123.5 323.9L2153.1 322.5M2185.9 321.1L2217.1 319.7" fill="none" stroke="#000" stroke-width="5.6" stroke-linecap="round" shape-rendering="crispEdges"/>
<path d="M162.5 792.4L187.3 790.4M218.0 788.0L247.3 785.7M273.4 783.7L303.6 781.3M331.5 779.1L359.0 777.0M387.9 774.7L416.3 772.5M443.3 770.4L472.6 768.1M499.6 766.0L529.5 763.6M561.9 761.1L590.4 758.9M623.8 756.3L649.5 754.2M683.8 751.6L705.8 749.8M739.2 747.2L761.2 745.5M795.6 742.8L823.1 740.7M857.4 738.0L887.7 735.6M913.6 733.6L943.4 731.2M971.3 729.1L999.9 726.8M1027.8 724.6L1056.5 722.4M1089.0 719.9L1117.7 717.6M1152.5 714.9L1205.4 710.7M1233.4 708.6L1263.2 706.2M1290.4 704.7L1308.6 703.8" fill="none" stroke="#000" stroke-width="5.9" stroke-linecap="round" shape-rendering="crispEdges"/>
<path d="M162.5 1167.3L188.3 1167.2M222.4 1167.2L251.7 1167.1M285.2 1167.1L315.7 1167.0M349.2 1167.0L378.8 1166.9M412.3 1166.8L442.4 1166.8M475.2 1166.7L505.6 1166.7M539.2 1166.6L569.1 1166.6M602.6 1166.5L632.2 1166.5M665.7 1166.4L695.6 1166.3M729.3 1166.3L758.5 1166.2M792.7 1166.2L822.5 1166.1M856.4 1166.1L885.7 1166.0M919.2 1165.9L949.3 1165.9M982.8 1165.8L1012.4 1165.8M1046.5 1165.6L1075.4 1165.5M1109.7 1165.4L1139.6 1165.3M1172.6 1165.2L1202.2 1165.1M1223.2 1165.0L1252.6 1164.9M1287.0 1164.7L1316.4 1164.5M1347.1 1164.0L1375.9 1163.6M1410.8 1163.1L1439.6 1162.9M1473.1 1162.7L1510.3 1162.4" fill="none" stroke="#000" stroke-width="5.5" stroke-linecap="round" shape-rendering="crispEdges"/>
<path d="M162.0 1533.3 L326.0 1534.5 L451.0 1535.9 L576.9 1537.7 L641.6 1538.7 L737.0 1539.6 L760.0 1540.8" fill="none" stroke="#000" stroke-width="5.6"/>
<path d="M170.9 412.3 L171.4 410.7 L171.8 407.9 L172.2 408.1 L172.6 405.2 L172.9 405.4 L173.2 402.5 L173.6 402.6 L173.9 400.4 L174.2 400.4 L174.6 397.6 L175.0 397.5 L175.5 395.3 L175.9 395.2 L176.4 392.7 L176.9 392.2 L177.3 389.6 L177.8 388.7 L178.2 386.1 L178.7 385.3 L179.1 382.2 L179.6 381.7 L180.0 378.8 L180.4 378.5 L180.7 376.0 L181.1 375.9 L181.4 373.0 L181.7 373.0 L182.1 370.7 L182.4 370.4 L182.8 368.1 L183.2 368.2 L183.6 365.8 L184.1 365.5 L184.5 362.9 L184.9 362.7 L185.3 360.3 L185.7 360.2 L186.3 357.1 L187.0 356.6 L187.6 354.3 L188.2 353.5 L188.8 350.9 L189.5 350.9 L190.1 348.5 L190.9 349.0 L191.7 346.7 L192.4 346.6 L193.2 343.8 L194.0 343.7 L194.9 340.8 L196.0 340.4 L197.1 338.1 L198.2 338.5 L199.3 337.5 L200.8 339.1 L202.2 337.2 L203.7 337.6 L205.1 334.8 L206.3 335.0 L207.6 333.8 L208.9 334.6 L210.1 332.5 L211.4 332.9 L212.7 330.4 L214.0 330.7 L215.3 329.4 L216.5 330.5 L217.8 328.5 L219.1 328.4 L220.3 325.4 L221.6 325.4 L222.8 323.1 L224.1 324.5 L225.4 323.4 L226.9 324.9 L228.4 323.3 L229.4 324.9 L230.4 324.6 L231.4 326.9 L232.6 327.0 L234.0 328.2 L235.5 326.3 L237.0 326.1 L238.4 324.8 L239.6 325.2 L240.7 323.8 L241.8 324.9 L242.9 322.5 L244.0 322.7 L244.9 319.6 L245.8 318.6 L246.8 316.2 L247.7 316.0 L248.6 313.8 L249.6 314.4 L250.5 312.6 L251.5 312.7 L252.4 310.2 L253.3 310.0 L254.3 307.2 L255.4 307.6 L256.4 305.4 L257.5 305.9 L258.5 303.9 L259.5 304.0 L260.5 301.3 L261.5 300.7 L262.8 298.0 L264.2 298.7 L265.6 298.3 L267.0 299.7 L268.5 298.5 L269.9 298.6 L271.4 296.1 L272.8 296.8 L274.3 296.0 L275.8 297.5 L277.3 295.5 L278.8 295.8 L280.2 294.5 L281.7 296.7 L283.2 296.1 L284.7 297.5 L286.2 295.6 L287.7 296.1 L289.2 294.5 L290.7 296.9 L292.2 296.6 L293.7 297.7 L295.2 296.3 L296.7 296.9 L298.2 296.0 L299.7 298.1 L301.2 296.7 L302.7 297.4 L304.2 295.5 L305.7 297.2 L307.2 297.3 L308.6 299.8 L310.1 298.7 L311.5 299.5 L312.9 298.0 L314.4 299.6 L315.8 299.5 L317.3 301.3 L318.8 300.4 L320.3 301.0 L321.8 300.1 L323.2 302.1 L324.7 301.6 L326.2 302.8 L327.7 300.8 L329.2 300.4 L330.6 298.9 L332.1 300.6 L333.6 300.3 L335.0 301.1 L336.5 298.9 L338.0 299.4 L339.4 298.1 L340.9 299.2 L342.4 298.1 L343.9 298.6 L345.4 296.4 L346.9 297.3 L348.3 297.1 L349.8 298.9 L351.3 297.4 L352.8 297.3 L354.2 294.9 L355.7 295.7 L357.1 294.5 L358.5 296.0 L360.0 294.5 L361.5 294.9 L362.9 292.9 L364.4 294.6 L365.9 293.5 L367.4 294.3 L368.8 292.1 L370.3 292.1 L371.8 290.8 L373.2 292.5 L374.7 291.9 L376.2 293.2 L377.7 291.0 L379.1 291.2 L380.6 289.3 L382.1 290.5 L383.5 289.8 L385.0 290.3 L386.5 288.1 L387.9 289.1 L389.4 288.2 L390.9 289.7 L392.3 288.4 L393.8 288.5 L395.3 286.1 L396.7 286.4 L398.2 285.6 L399.7 287.7 L401.2 286.5 L402.6 286.7 L404.1 284.4 L405.5 285.7 L407.0 284.5 L408.4 285.3 L409.9 283.3 L411.4 284.1 L412.9 282.4 L414.4 284.1 L415.9 284.0 L417.4 285.6 L418.9 283.6 L420.4 283.7 L421.8 281.7 L423.3 283.0 L424.8 282.2 L426.3 283.2 L427.7 281.4 L429.0 282.8 L430.2 282.4 L431.1 285.1 L431.5 285.8 L431.8 288.5 L432.2 288.9 L432.6 291.6 L433.0 292.2 L433.4 294.5 L433.9 294.7 L434.3 297.5 L434.7 297.5 L435.1 299.7 L435.5 299.5 L436.0 301.7 L436.4 301.7 L437.6 302.8 L439.1 302.0 L440.6 304.1 L442.0 303.0 L443.4 303.4 L444.7 301.7 L445.7 303.5 L446.8 303.2 L447.9 305.8 L449.0 306.0 L450.0 308.3 L451.1 307.3 L452.2 306.9 L453.3 304.2 L454.4 304.2 L455.5 302.4 L456.6 303.5 L457.6 301.7 L458.6 301.8 L459.6 299.3 L460.6 298.5 L461.7 295.8 L462.9 295.5 L464.1 293.9 L465.3 294.6 L466.5 293.1 L467.6 293.3 L468.8 291.0 L470.0 290.7 L471.1 288.5 L472.5 289.7 L473.9 288.3 L475.3 288.7 L476.6 286.4 L477.9 286.0 L479.2 283.6 L480.6 284.7 L481.9 283.9 L483.3 285.6 L484.7 283.2 L486.0 283.3 L487.4 280.7 L488.8 281.4 L490.1 281.2 L491.4 283.7 L492.7 282.7 L494.1 284.3 L495.2 282.1 L496.4 282.8 L497.5 281.2 L498.6 281.7 L499.8 279.8 L500.9 279.6 L502.0 276.7 L503.3 276.3 L504.6 274.0 L505.9 274.9 L507.1 274.0 L508.4 275.2 L509.7 273.0 L511.0 272.6 L512.3 270.3 L513.5 270.7 L514.8 269.4 L516.1 269.8 L517.5 268.0 L518.8 267.9 L520.2 265.3 L521.5 266.4 L522.8 265.4 L524.2 266.7 L525.5 264.9 L526.9 264.6 L528.3 261.7 L529.6 261.9 L531.0 260.4 L532.4 261.9 L533.7 260.3 L535.1 260.8 L536.4 258.5 L537.8 259.2 L539.2 257.6 L540.5 258.7 L541.9 256.7 L543.3 256.5 L544.7 253.7 L546.0 254.4 L547.4 253.3 L548.7 254.8 L549.9 253.2 L551.2 253.2 L552.4 250.5 L553.7 250.2 L555.0 248.2 L556.2 249.0 L557.5 247.4 L558.8 248.1 L560.0 245.4 L561.3 245.4 L562.6 243.6 L564.0 244.5 L565.3 243.9 L566.6 244.2 L568.0 241.8 L569.3 241.3 L570.6 238.9 L572.1 240.1 L573.5 239.3 L574.9 240.3 L576.3 238.5 L577.8 238.5 L579.2 237.1 L580.6 238.1 L582.1 237.5 L583.6 238.1 L585.1 236.2 L586.6 236.5 L588.1 235.4 L589.6 237.5 L591.1 237.0 L592.6 237.9 L594.1 235.9 L595.6 236.5 L597.1 235.5 L598.6 237.1 L600.1 236.6 L601.6 237.3 L603.1 235.5 L604.6 237.4 L606.1 237.1 L607.6 238.7 L609.1 237.6 L610.6 237.7 L612.0 236.0 L613.5 237.8 L615.0 237.8 L616.5 239.8 L618.0 238.3 L619.5 239.3 L621.0 238.0 L622.5 239.8 L624.0 239.2 L625.5 240.1 L627.0 238.4 L628.5 239.2 L630.0 239.1 L631.4 241.4 L632.9 241.0 L634.4 241.5 L635.9 239.2 L637.4 240.1 L638.9 239.8 L640.4 241.9 L641.9 241.1 L643.4 242.2 L644.9 240.5 L646.3 242.1 L647.8 242.0 L649.3 243.4 L650.8 242.1 L652.3 242.5 L653.8 240.9 L655.3 243.3 L656.7 243.6 L658.2 245.3 L659.7 243.5 L661.2 244.2 L662.7 242.8 L664.2 244.8 L665.6 244.4 L667.1 245.4 L668.6 244.2 L670.1 245.1 L671.6 245.0 L673.1 247.4 L674.5 246.4 L676.0 247.3 L677.5 245.0 L679.0 246.1 L680.5 245.9 L681.9 248.3 L683.4 247.5 L684.9 248.6 L686.4 247.2 L687.9 248.6 L689.4 247.9 L690.8 249.6 L692.3 248.0 L693.8 248.6 L695.3 247.8 L696.8 249.8 L698.3 249.9 L699.8 251.9 L701.2 249.9 L702.7 250.4 L704.2 249.0 L705.7 251.1 L707.2 250.9 L708.7 252.4 L710.1 250.7 L711.6 252.0 L713.1 251.4 L714.6 253.8 L716.1 252.7 L717.6 253.4 L719.0 251.2 L720.5 252.8 L722.0 252.5 L723.5 255.0 L725.0 254.1 L726.5 254.8 L727.9 253.4 L729.4 254.7 L730.9 254.4 L732.4 256.1 L733.9 254.6 L735.4 255.0 L736.9 254.5 L738.3 256.7 L739.8 256.5 L741.3 257.8 L742.8 256.3 L744.3 256.3 L745.8 255.2 L747.2 257.5 L748.7 257.1 L750.2 258.8 L751.7 257.4 L753.2 258.4 L754.7 257.8 L756.1 259.9 L757.6 258.6 L759.1 259.5 L760.6 257.7 L762.1 259.2 L763.6 258.8 L765.1 261.6 L766.5 260.6 L768.0 260.9 L769.5 259.5 L771.0 260.4 L772.5 260.0 L774.0 262.1 L775.5 260.6 L776.9 261.8 L778.4 260.6 L779.9 262.7 L781.4 262.7 L782.9 263.6 L784.4 261.7 L785.9 262.2 L787.3 261.5 L788.8 263.7 L790.3 263.8 L791.8 264.8 L793.3 263.5 L794.8 264.5 L796.3 263.7 L797.7 265.4 L799.2 264.3 L800.7 265.2 L802.2 263.4 L803.7 265.3 L805.2 265.5 L806.7 267.5 L808.1 266.4 L809.6 267.0 L811.1 265.1 L812.6 266.5 L814.1 266.1 L815.6 267.9 L817.1 266.6 L818.6 267.5 L820.0 266.5 L821.5 268.5 L823.0 268.4 L824.5 269.1 L826.0 267.1 L827.5 268.1 L829.0 267.4 L830.5 269.6 L832.0 269.4 L833.5 270.8 L834.9 269.0 L836.4 269.7 L837.9 269.0 L839.4 270.9 L840.9 269.9 L842.4 270.8 L843.9 269.3 L845.4 270.8 L846.9 270.8 L848.3 272.8 L849.8 271.6 L851.3 271.7 L852.8 270.2 L854.3 271.8 L855.8 271.4 L857.3 273.6 L858.8 272.1 L860.3 272.9 L861.8 272.0 L863.2 273.8 L864.7 273.0 L866.2 273.9 L867.7 272.0 L869.2 272.9 L870.7 272.8 L872.2 275.0 L873.7 274.4 L875.2 275.5 L876.7 273.5 L878.2 274.5 L879.7 273.8 L881.2 275.6 L882.6 274.6 L884.1 275.6 L885.6 274.0 L887.1 276.0 L888.6 275.7 L890.1 277.2 L891.6 275.7 L893.1 276.0 L894.6 274.3 L896.1 276.4 L897.6 276.5 L899.1 278.0 L900.6 276.4 L902.1 277.2 L903.6 276.3 L905.1 277.9 L906.5 276.9 L908.0 277.9 L909.5 276.4 L911.0 277.4 L912.5 277.1 L914.0 279.7 L915.5 278.9 L917.0 279.1 L918.5 277.3 L920.0 278.2 L921.5 277.8 L923.0 279.7 L924.5 278.9 L926.0 279.6 L927.5 278.2 L929.0 280.3 L930.5 279.9 L931.9 281.2 L933.4 279.3 L934.9 279.5 L936.4 278.3 L937.9 280.9 L939.4 280.6 L940.9 282.1 L942.4 280.5 L943.9 281.0 L945.4 280.1 L946.9 281.6 L948.4 281.0 L949.9 281.6 L951.4 280.3 L952.9 281.9 L954.4 281.4 L955.9 283.6 L957.4 282.2 L958.9 282.6 L960.4 280.8 L961.8 282.1 L963.3 282.0 L964.8 284.1 L966.3 282.6 L967.8 283.5 L969.3 282.2 L970.8 284.0 L972.3 283.4 L973.8 284.3 L975.3 282.5 L976.8 283.5 L978.3 282.5 L979.8 285.2 L981.3 284.6 L982.8 286.0 L984.3 283.8 L985.7 284.5 L987.2 283.8 L988.7 285.8 L990.2 285.2 L991.7 285.9 L993.2 284.4 L994.7 286.2 L996.2 285.8 L997.7 287.5 L999.2 286.1 L1000.7 286.3 L1002.2 284.6 L1003.7 286.4 L1005.2 286.4 L1006.7 288.5 L1008.2 287.0 L1009.7 287.5 L1011.1 286.0 L1012.6 287.8 L1014.1 287.1 L1015.6 288.4 L1017.1 286.6 L1018.6 287.5 L1020.1 287.2 L1021.6 289.5 L1023.1 288.4 L1024.6 289.2 L1026.1 287.3 L1027.6 288.0 L1029.1 287.4 L1030.6 289.6 L1032.1 288.5 L1033.6 289.4 L1035.1 287.7 L1036.6 289.4 L1038.1 288.9 L1039.6 290.5 L1041.1 288.6 L1042.6 288.9 L1044.1 287.6 L1045.6 289.8 L1047.1 289.8 L1048.6 291.4 L1050.1 289.3 L1051.6 289.5 L1053.1 288.6 L1054.6 290.2 L1056.1 289.8 L1057.6 290.5 L1059.1 288.9 L1060.6 290.2 L1062.1 289.8 L1063.6 291.7 L1065.1 290.7 L1066.6 291.0 L1068.1 288.6 L1069.6 290.1 L1071.1 290.0 L1072.6 292.1 L1074.1 290.8 L1075.6 291.3 L1077.1 290.1 L1078.6 291.7 L1080.1 290.7 L1081.6 292.1 L1083.1 290.2 L1084.6 290.9 L1086.1 290.2 L1087.6 292.6 L1089.1 292.1 L1090.6 293.1 L1092.1 290.7 L1093.6 291.6 L1095.1 290.5 L1096.6 292.4 L1098.1 291.7 L1099.6 292.5 L1101.1 290.9 L1102.6 292.5 L1104.1 291.9 L1105.6 293.7 L1107.1 292.2 L1108.6 292.3 L1110.1 290.7 L1111.6 292.4 L1113.1 292.7 L1114.6 294.4 L1116.1 292.9 L1117.6 293.2 L1119.1 292.0 L1120.6 293.5 L1122.1 292.8 L1123.6 293.9 L1125.1 292.0 L1126.6 293.1 L1128.1 292.4 L1129.6 295.1 L1131.1 294.3 L1132.5 294.8 L1134.0 292.2 L1135.5 293.4 L1137.0 292.9 L1138.5 295.0 L1140.0 293.9 L1141.5 294.5 L1143.0 293.5 L1144.5 295.0 L1146.0 294.1 L1147.5 295.4 L1149.0 293.9 L1150.5 294.0 L1152.0 293.1 L1153.5 295.3 L1155.0 295.1 L1156.5 296.3 L1158.0 294.4 L1159.5 295.1 L1161.0 293.9 L1162.5 295.7 L1164.0 294.7 L1165.5 295.9 L1167.0 294.1 L1168.5 295.6 L1170.0 294.9 L1171.5 297.1 L1173.0 295.8 L1174.5 295.9 L1176.0 293.8 L1177.5 295.3 L1179.0 295.0 L1180.5 297.2 L1182.0 295.8 L1183.5 296.3 L1185.0 295.0 L1186.5 296.3 L1188.0 295.7 L1189.5 296.7 L1191.0 295.0 L1192.5 295.6 L1194.0 295.0 L1195.5 297.3 L1197.0 296.8 L1198.5 297.9 L1200.0 295.8 L1201.5 296.3 L1203.0 295.2 L1204.5 297.3 L1206.0 296.4 L1207.5 297.5 L1209.0 295.8 L1210.5 297.1 L1212.0 296.5 L1213.5 298.1 L1215.0 296.5 L1216.5 296.9 L1218.0 295.5 L1219.5 297.2 L1221.0 297.0 L1222.5 299.0 L1224.0 297.3 L1225.5 297.9 L1227.0 296.2 L1228.5 297.9 L1230.0 296.9 L1231.5 298.0 L1233.0 296.3 L1234.5 297.6 L1236.0 297.1 L1237.5 299.4 L1239.0 298.3 L1240.5 298.7 L1242.0 296.4 L1243.5 297.6 L1245.0 297.1 L1246.5 299.0 L1248.0 298.1 L1249.5 298.9 L1251.0 297.1 L1252.5 298.7 L1254.0 298.0 L1255.5 299.4 L1257.0 297.6 L1258.5 298.0 L1260.0 297.0 L1261.5 299.4 L1263.0 298.9 L1264.5 300.4 L1266.0 298.4 L1267.5 298.6 L1269.0 297.6 L1270.5 299.4 L1272.0 298.6 L1273.5 299.8 L1275.0 298.2 L1276.5 299.4 L1278.0 298.7 L1279.5 300.8 L1281.0 299.5 L1282.5 299.4 L1284.0 297.8 L1285.5 298.9 L1287.0 298.7 L1288.5 301.0 L1290.0 299.6 L1291.5 300.3 L1293.0 298.5 L1294.5 300.3 L1296.0 299.5 L1297.5 300.7 L1299.0 298.7 L1300.5 299.7 L1302.0 298.8 L1303.5 301.1 L1305.0 300.5 L1306.5 301.3 L1308.0 299.0 L1309.5 299.5 L1311.0 299.1 L1312.5 300.8 L1314.0 300.0 L1315.5 301.2 L1317.0 299.3 L1318.5 300.8 L1320.0 300.1 L1321.5 301.9 L1323.0 300.0 L1324.5 300.2 L1326.0 298.9 L1327.5 300.7 L1329.0 300.8 L1330.5 302.3 L1332.0 300.5 L1333.5 301.2 L1335.0 299.8 L1336.5 301.3 L1338.0 300.7 L1339.6 301.4 L1341.1 299.7 L1342.6 301.0 L1344.1 300.3 L1345.6 302.5 L1347.1 301.7 L1348.6 301.8 L1350.1 299.6 L1351.6 300.9 L1353.1 300.1 L1354.6 302.4 L1356.1 301.4 L1357.6 301.8 L1359.1 300.3 L1360.6 301.7 L1362.1 301.4 L1363.6 302.2 L1365.1 300.8 L1366.6 301.2 L1368.1 300.3 L1369.6 302.6 L1371.1 302.3 L1372.6 303.4 L1374.1 301.2 L1375.6 301.2 L1377.1 300.3 L1378.6 302.1 L1380.1 301.4 L1381.6 302.3 L1383.1 301.0 L1384.6 302.3 L1386.1 301.6 L1387.6 303.6 L1389.1 301.7 L1390.6 301.8 L1392.1 300.1 L1393.6 301.9 L1395.1 301.7 L1396.6 303.8 L1398.1 302.3 L1399.6 302.8 L1401.1 301.0 L1402.6 302.4 L1404.1 302.1 L1405.6 303.1 L1407.1 301.0 L1408.6 301.9 L1410.1 301.5 L1411.6 303.8 L1413.1 303.1 L1414.6 303.7 L1416.1 301.3 L1417.6 301.8 L1419.1 301.4 L1420.6 303.4 L1422.1 302.6 L1423.6 303.4 L1425.1 301.9 L1426.6 303.3 L1428.1 302.7 L1429.6 304.1 L1431.1 302.2 L1432.6 302.6 L1434.1 301.3 L1435.6 303.5 L1437.1 303.0 L1438.6 304.9 L1440.1 302.9 L1441.6 303.2 L1443.1 302.2 L1444.6 303.9 L1446.1 302.9 L1447.6 304.2 L1449.1 302.4 L1450.6 303.6 L1452.1 302.9 L1453.6 305.3 L1455.1 303.8 L1456.6 304.1 L1458.1 302.1 L1459.6 303.5 L1461.1 303.1 L1462.6 305.2 L1464.1 303.9 L1465.6 304.8 L1467.1 302.9 L1468.6 304.4 L1470.1 304.1 L1471.6 304.9 L1473.1 303.2 L1474.6 303.9 L1476.1 302.8 L1477.6 305.4 L1479.1 305.1 L1480.6 306.0 L1482.1 303.5 L1483.6 304.3 L1485.1 303.1 L1486.6 305.0 L1488.1 304.2 L1489.6 305.4 L1491.1 303.6 L1492.6 305.2 L1494.1 304.6 L1495.6 306.0 L1497.1 304.5 L1498.6 304.9 L1500.1 303.1 L1501.6 304.9 L1503.1 304.5 L1504.6 306.4 L1506.1 304.9 L1507.6 305.5 L1509.1 303.9 L1510.6 305.3 L1512.1 304.9 L1513.6 305.9 L1515.1 303.9 L1516.6 305.0 L1518.1 304.7 L1519.6 306.8 L1521.1 305.7 L1522.6 306.1 L1524.1 304.0 L1525.6 305.0 L1527.1 304.1 L1528.6 306.4 L1530.1 305.5 L1531.6 306.3 L1533.1 304.8 L1534.6 305.9 L1536.1 305.6 L1537.6 306.9 L1539.1 305.0 L1540.6 305.4 L1542.1 304.2 L1543.6 306.3 L1545.1 306.3 L1546.6 307.3 L1548.1 305.3 L1549.6 305.8 L1551.1 304.8 L1552.6 306.5 L1554.1 305.5 L1555.6 306.5 L1557.1 305.0 L1558.6 306.2 L1560.1 305.8 L1561.6 307.5 L1563.1 306.6 L1564.6 306.8 L1566.1 304.4 L1567.6 305.9 L1569.1 305.7 L1570.6 307.6 L1572.1 306.4 L1573.6 307.0 L1575.1 305.2 L1576.6 307.1 L1578.1 306.1 L1579.6 307.6 L1581.1 305.7 L1582.6 306.1 L1584.1 305.7 L1585.6 307.6 L1587.1 307.5 L1588.6 307.9 L1590.1 305.9 L1591.6 306.6 L1593.1 305.6 L1594.6 307.8 L1596.1 306.6 L1597.6 307.5 L1599.1 306.0 L1600.6 307.4 L1602.1 307.1 L1603.6 308.7 L1605.1 306.8 L1606.6 307.0 L1608.1 305.3 L1609.6 307.4 L1611.1 307.0 L1612.7 308.8 L1614.2 307.2 L1615.7 307.4 L1617.2 305.8 L1618.7 307.9 L1620.2 307.1 L1621.7 307.8 L1623.2 306.3 L1624.7 307.2 L1626.2 306.6 L1627.7 309.1 L1629.2 307.7 L1630.7 308.0 L1632.2 305.8 L1633.7 307.1 L1635.2 306.4 L1636.7 308.8 L1638.2 307.8 L1639.7 308.1 L1641.2 306.5 L1642.7 308.3 L1644.2 307.4 L1645.7 308.6 L1647.2 306.8 L1648.7 307.4 L1650.2 306.4 L1651.7 308.3 L1653.2 308.3 L1654.7 309.2 L1656.2 307.3 L1657.7 307.5 L1659.2 306.6 L1660.7 308.2 L1662.2 307.5 L1663.7 308.3 L1665.2 306.8 L1666.7 308.0 L1668.2 307.9 L1669.7 309.7 L1671.2 308.1 L1672.7 308.4 L1674.2 306.0 L1675.7 307.9 L1677.2 307.8 L1678.7 309.5 L1680.2 308.4 L1681.7 308.8 L1683.2 306.9 L1684.7 308.7 L1686.2 307.9 L1687.7 308.9 L1689.2 307.0 L1690.7 307.9 L1692.2 307.2 L1693.7 309.3 L1695.2 309.0 L1696.7 309.3 L1698.2 307.1 L1699.7 307.9 L1701.2 307.3 L1702.7 309.4 L1704.2 308.4 L1705.7 309.1 L1707.2 307.7 L1708.7 308.8 L1710.2 308.2 L1711.7 309.7 L1713.2 308.2 L1714.7 308.3 L1716.2 306.9 L1717.7 309.0 L1719.2 308.9 L1720.7 310.5 L1722.2 308.7 L1723.7 309.0 L1725.2 307.4 L1726.7 309.0 L1728.2 308.4 L1729.7 309.3 L1731.2 307.8 L1732.7 308.7 L1734.2 308.4 L1735.7 310.6 L1737.2 308.9 L1738.7 309.7 L1740.2 307.5 L1741.7 308.3 L1743.2 307.9 L1744.7 309.9 L1746.2 308.9 L1747.7 309.6 L1749.2 307.8 L1750.7 309.3 L1752.2 308.7 L1753.7 309.9 L1755.2 308.3 L1756.7 308.4 L1758.2 307.5 L1759.7 310.0 L1761.2 309.7 L1762.7 310.6 L1764.2 308.2 L1765.7 308.7 L1767.2 307.7 L1768.7 309.5 L1770.2 309.0 L1771.7 309.9 L1773.2 308.1 L1774.7 309.3 L1776.2 309.2 L1777.7 310.4 L1779.2 309.0 L1780.7 309.2 L1782.2 307.5 L1783.7 308.9 L1785.2 308.9 L1786.7 310.9 L1788.3 309.1 L1789.8 309.7 L1791.3 308.3 L1792.8 309.5 L1794.3 308.8 L1795.8 309.9 L1797.3 308.0 L1798.8 308.8 L1800.3 308.3 L1801.8 310.6 L1803.3 309.7 L1804.8 310.5 L1806.3 308.0 L1807.8 308.6 L1809.3 308.0 L1810.8 310.2 L1812.3 309.1 L1813.8 309.9 L1815.3 308.6 L1816.8 310.0 L1818.3 309.3 L1819.8 310.4 L1821.3 308.8 L1822.8 309.1 L1824.3 308.0 L1825.8 309.8 L1827.3 309.7 L1828.8 311.1 L1830.3 309.3 L1831.8 309.6 L1833.3 308.0 L1834.8 310.1 L1836.3 309.2 L1837.8 310.2 L1839.3 308.4 L1840.8 309.7 L1842.3 309.3 L1843.8 311.2 L1845.3 309.5 L1846.8 309.9 L1848.3 307.8 L1849.8 309.1 L1851.3 308.8 L1852.8 310.6 L1854.3 309.4 L1855.8 310.0 L1857.3 308.7 L1858.8 309.9 L1860.3 309.5 L1861.8 310.6 L1863.3 308.8 L1864.8 309.0 L1866.3 308.3 L1867.8 310.5 L1869.3 310.4 L1870.8 311.1 L1872.3 308.7 L1873.8 309.3 L1875.3 308.2 L1876.8 310.1 L1878.3 309.3 L1879.8 310.5 L1881.3 308.9 L1882.8 309.9 L1884.3 309.6 L1885.8 311.1 L1887.3 309.5 L1888.8 309.4 L1890.3 308.0 L1891.8 309.5 L1893.3 309.6 L1894.8 311.5 L1896.3 309.9 L1897.8 310.1 L1899.3 308.5 L1900.8 310.0 L1902.3 309.3 L1903.8 310.7 L1905.3 308.7 L1906.8 309.6 L1908.3 309.0 L1909.8 311.3 L1911.3 310.3 L1912.8 310.9 L1914.3 308.3 L1915.8 309.3 L1917.3 309.0 L1918.8 310.9 L1920.3 310.0 L1921.8 310.9 L1923.3 308.9 L1924.8 310.7 L1926.3 309.7 L1927.8 311.3 L1929.3 309.4 L1930.8 309.7 L1932.3 308.3 L1933.8 310.9 L1935.3 310.6 L1936.8 311.7 L1938.3 309.6 L1939.8 310.0 L1941.3 308.8 L1942.8 310.5 L1944.3 309.9 L1945.8 310.9 L1947.3 309.4 L1948.9 310.3 L1950.4 309.8 L1951.9 312.0 L1953.4 310.1 L1954.9 310.6 L1956.4 308.4 L1957.9 310.2 L1959.4 309.7 L1960.9 311.6 L1962.4 310.4 L1963.9 310.9 L1965.4 309.3 L1966.9 310.8 L1968.4 310.2 L1969.9 311.5 L1971.4 309.4 L1972.9 310.1 L1974.4 309.5 L1975.9 311.7 L1977.4 310.9 L1978.9 311.8 L1980.4 309.7 L1981.9 310.3 L1983.4 309.6 L1984.9 311.5 L1986.4 310.3 L1987.9 311.4 L1989.4 309.9 L1990.9 311.2 L1992.4 310.6 L1993.9 311.9 L1995.4 310.5 L1996.9 310.4 L1998.4 309.2 L1999.9 311.0 L2001.4 311.0 L2002.9 312.4 L2004.4 311.0 L2005.9 311.1 L2007.4 309.5 L2008.9 311.4 L2010.4 310.6 L2011.9 311.7 L2013.4 310.0 L2014.9 311.1 L2016.4 310.5 L2017.9 312.6 L2019.4 311.4 L2020.9 311.7 L2022.4 309.6 L2023.9 310.5 L2025.4 310.4 L2026.9 312.3 L2028.4 311.3 L2029.9 311.9 L2031.4 310.5 L2032.9 311.7 L2034.4 310.9 L2035.9 312.1 L2037.4 310.3 L2038.9 310.9 L2040.4 310.0 L2041.9 312.4 L2043.4 311.9 L2044.9 313.0 L2046.4 310.9 L2047.9 311.0 L2049.4 309.9 L2050.9 312.0 L2052.4 311.4 L2053.9 312.1 L2055.4 310.5 L2056.9 311.9 L2058.4 311.5 L2059.9 312.9 L2061.4 311.2 L2062.9 311.7 L2064.4 309.9 L2065.9 311.3 L2067.4 311.3 L2068.9 313.2 L2070.4 311.6 L2071.9 312.3 L2073.4 310.4 L2074.9 312.1 L2076.4 311.3 L2077.9 312.5 L2079.4 310.4 L2080.9 311.5 L2082.4 310.7 L2083.9 313.2 L2085.4 312.1 L2086.9 312.7 L2088.4 310.4 L2089.9 311.1 L2091.4 310.5 L2092.9 312.7 L2094.4 311.8 L2095.9 312.8 L2097.4 310.9 L2098.9 312.3 L2100.4 311.6 L2101.9 313.3 L2103.4 311.2 L2104.9 311.5 L2106.4 310.3 L2107.9 312.3 L2109.4 312.1 L2110.9 313.6 L2112.4 311.8 L2113.9 312.1 L2115.4 310.8 L2116.9 312.4 L2118.4 311.6 L2120.0 312.9 L2121.5 311.0 L2123.0 312.2 L2124.5 311.9 L2126.0 313.6 L2127.5 312.6 L2129.0 312.7 L2130.5 310.5 L2132.0 311.5 L2133.5 311.3 L2135.0 313.4 L2136.5 312.1 L2138.0 313.0 L2139.5 311.1 L2141.0 312.6 L2142.5 312.1 L2144.0 313.4 L2145.5 311.5 L2147.0 311.7 L2148.5 311.1 L2150.0 313.4 L2151.5 312.7 L2153.0 314.0 L2154.5 311.6 L2156.0 312.3 L2157.5 311.1 L2159.0 313.1 L2160.5 312.2 L2162.0 313.1 L2163.5 311.6 L2165.0 312.9 L2166.5 312.5 L2168.0 314.2 L2169.5 312.2 L2171.0 312.5 L2172.5 310.9 L2174.0 312.5 L2175.5 312.5 L2177.0 314.2 L2178.5 312.6 L2180.0 313.2 L2181.5 311.3 L2183.0 313.1 L2184.5 312.4 L2186.0 313.4 L2187.5 311.3 L2189.0 312.5 L2190.5 312.0 L2192.0 314.3 L2193.5 313.4 L2195.0 313.6 L2196.5 311.2 L2198.0 312.5 L2199.5 311.8 L2201.0 313.7 L2202.5 312.7 L2204.0 313.7 L2205.5 311.9 L2207.0 313.8 L2208.5 312.8 L2210.0 314.3 L2211.5 312.6 L2213.0 312.8 L2214.5 311.7 L2216.0 313.9 L2217.5 313.9 L2219.0 315.0 L2220.5 313.1 L2222.0 313.6 L2223.5 312.4 L2225.0 314.4 L2226.5 313.4 L2228.0 314.2 L2229.5 312.8 L2231.0 314.2 L2232.5 313.8 L2234.0 315.7 L2235.5 314.4 L2237.0 314.3 L2238.5 312.2 L2240.0 313.9 L2241.5 313.6 L2243.0 315.6 L2244.5 314.4 L2246.0 314.4" fill="none" stroke="#000" stroke-width="6.1" stroke-linejoin="round" shape-rendering="crispEdges"/>
<path d="M162.0 792.0 L163.2 791.5 L164.4 788.9 L165.7 789.9 L166.6 788.0 L166.8 787.7 L166.9 785.0 L167.1 784.8 L167.2 781.9 L167.4 781.9 L167.5 779.3 L168.8 779.4 L170.1 776.9 L171.4 777.2 L172.7 775.2 L173.9 776.0 L174.2 773.8 L174.5 773.6 L174.8 771.3 L175.1 771.3 L175.4 768.8 L175.6 768.6 L175.7 765.7 L175.8 765.4 L175.9 762.9 L176.2 762.5 L176.5 759.7 L176.8 759.6 L177.1 756.9 L177.4 756.1 L177.8 753.6 L178.1 753.1 L178.4 750.2 L178.7 749.5 L179.1 746.7 L179.5 746.1 L179.9 743.3 L180.3 742.7 L180.7 739.9 L181.0 739.9 L181.4 737.2 L181.8 737.3 L182.1 734.5 L182.4 734.4 L182.8 732.2 L183.1 731.9 L183.4 729.6 L183.7 729.7 L184.0 726.8 L184.3 726.6 L184.7 724.4 L185.0 724.2 L185.4 721.3 L185.7 721.0 L186.1 718.3 L186.4 717.8 L186.8 715.0 L187.1 714.7 L187.6 711.8 L188.2 711.7 L188.9 709.2 L189.5 708.8 L190.1 706.7 L190.8 706.8 L191.4 704.3 L192.1 704.1 L192.7 702.0 L193.4 701.4 L194.1 698.7 L194.8 698.2 L195.5 695.2 L196.3 694.7 L197.0 692.4 L197.7 692.3 L198.4 690.2 L199.2 690.3 L199.9 688.6 L200.7 689.2 L201.5 686.9 L202.3 686.2 L203.1 683.4 L204.0 682.8 L204.8 680.1 L205.6 679.7 L206.4 677.3 L207.2 677.5 L208.1 675.3 L209.0 675.9 L209.9 673.2 L210.9 673.0 L211.8 670.5 L212.7 670.4 L213.7 667.7 L214.6 668.3 L215.5 666.3 L216.5 666.9 L217.4 664.8 L218.5 664.6 L219.7 661.7 L221.0 661.5 L222.2 658.7 L223.4 659.8 L224.7 658.6 L225.9 659.7 L227.1 657.4 L228.4 657.4 L229.6 654.7 L230.8 654.9 L232.1 653.2 L233.3 653.9 L234.5 652.2 L235.7 651.8 L237.0 649.3 L238.2 649.5 L239.4 647.5 L240.6 648.6 L241.9 647.5 L243.1 647.7 L244.3 645.3 L245.5 644.5 L246.8 642.2 L248.0 642.6 L249.3 641.0 L250.6 642.0 L251.8 640.1 L253.1 640.1 L254.4 638.0 L255.6 638.0 L256.9 636.7 L258.2 637.5 L259.5 635.6 L260.8 635.6 L262.2 632.6 L263.5 633.0 L264.9 631.5 L266.2 633.3 L267.6 632.3 L268.9 632.3 L270.3 629.9 L271.7 630.2 L273.1 628.3 L274.5 629.6 L275.9 628.0 L277.3 628.6 L278.8 626.3 L280.2 626.7 L281.6 625.5 L283.0 627.1 L284.4 625.7 L285.7 625.3 L287.1 622.9 L288.5 622.7 L289.9 621.2 L291.2 622.7 L292.6 621.6 L294.0 621.9 L295.4 619.7 L296.8 620.3 L298.2 618.7 L299.6 619.8 L301.0 618.2 L302.5 618.5 L303.9 615.8 L305.3 616.3 L306.7 615.5 L308.1 617.6 L309.6 616.3 L311.1 616.3 L312.5 614.1 L314.0 614.5 L315.5 613.3 L316.9 615.1 L318.4 613.3 L319.9 613.8 L321.4 612.4 L322.9 613.9 L324.4 613.1 L325.8 614.3 L327.3 612.1 L328.8 612.1 L330.3 610.8 L331.8 612.3 L333.3 612.3 L334.8 613.5 L336.3 611.7 L337.8 612.1 L339.3 610.7 L340.8 612.3 L342.3 611.4 L343.8 611.8 L345.3 609.9 L346.8 611.3 L348.3 610.6 L349.8 612.7 L351.3 611.6 L352.8 611.9 L354.3 609.7 L355.8 610.4 L357.3 610.2 L358.8 611.7 L360.3 610.5 L361.8 611.0 L363.3 609.6 L364.8 611.3 L366.3 610.6 L367.8 611.7 L369.3 609.5 L370.8 610.0 L372.3 608.8 L373.8 611.0 L375.3 610.5 L376.8 611.6 L378.3 609.5 L379.8 610.2 L381.3 608.8 L382.7 610.8 L384.2 610.0 L385.7 611.3 L387.2 609.7 L388.7 611.2 L390.2 611.2 L391.7 613.2 L393.2 611.6 L394.7 611.3 L396.2 609.7 L397.7 611.3 L399.2 610.8 L400.7 612.8 L402.2 611.2 L403.3 612.9 L404.3 612.5 L405.3 614.7 L406.3 615.3 L407.4 617.5 L408.8 616.3 L410.3 616.3 L411.7 613.9 L413.2 614.5 L414.6 613.7 L416.0 615.6 L417.5 614.5 L418.8 614.1 L420.2 611.4 L421.5 611.7 L422.9 610.1 L424.2 610.9 L425.6 609.5 L426.9 609.8 L428.1 607.2 L429.2 607.5 L430.3 605.4 L431.4 606.1 L432.6 604.3 L433.7 604.7 L434.9 602.2 L436.2 601.9 L437.6 599.4 L438.9 600.2 L440.3 599.4 L441.7 601.0 L443.2 599.3 L444.6 599.6 L446.1 597.6 L447.6 598.8 L449.1 598.1 L450.6 599.5 L452.1 597.3 L453.6 598.5 L455.1 597.9 L456.5 600.1 L458.0 600.1 L459.5 601.2 L461.0 599.4 L462.4 599.8 L463.9 599.0 L465.4 601.6 L466.8 601.5 L468.3 603.1 L469.7 601.6 L471.2 602.9 L472.6 602.5 L474.1 604.7 L475.5 603.6 L476.9 604.6 L478.3 603.1 L479.7 605.1 L481.1 605.1 L482.5 607.7 L484.0 607.4 L485.4 608.6 L486.8 607.0 L488.2 608.4 L489.5 608.0 L490.9 610.4 L492.2 610.0 L493.6 611.7 L494.9 610.7 L496.3 612.6 L497.7 612.6 L499.0 615.2 L500.4 614.4 L501.8 615.3 L503.2 613.5 L504.6 615.2 L506.1 615.0 L507.5 617.3 L509.0 617.3 L510.4 618.5 L511.8 617.2 L513.3 618.6 L514.7 618.3 L516.1 620.2 L517.6 619.1 L519.0 619.7 L520.5 618.6 L521.9 620.6 L523.4 621.1 L524.8 623.4 L526.3 621.9 L527.7 622.7 L529.1 620.9 L530.6 622.8 L532.0 623.1 L533.4 625.3 L534.8 624.1 L536.2 625.2 L537.7 624.6 L539.1 626.7 L540.5 626.7 L541.9 628.1 L543.3 627.0 L544.8 627.8 L546.2 626.8 L547.6 629.4 L549.0 629.7 L550.5 631.5 L551.9 630.4 L553.3 631.0 L554.7 630.2 L556.2 632.2 L557.6 631.9 L559.1 633.4 L560.5 631.9 L562.0 633.0 L563.4 632.9 L564.8 635.4 L566.3 634.8 L567.7 636.1 L569.2 634.4 L570.6 635.4 L572.1 634.5 L573.5 637.3 L575.0 637.1 L576.4 638.2 L577.9 637.1 L579.3 638.2 L580.7 638.3 L582.2 640.1 L583.6 639.2 L585.1 639.9 L586.5 638.4 L588.0 640.0 L589.5 640.3 L590.9 642.8 L592.4 641.8 L593.8 642.5 L595.3 640.7 L596.8 642.6 L598.2 641.9 L599.7 644.2 L601.1 643.1 L602.6 644.0 L604.1 643.2 L605.5 645.6 L607.0 645.3 L608.4 646.6 L609.9 644.9 L611.4 645.3 L612.8 644.4 L614.3 646.8 L615.7 647.0 L617.2 649.0 L618.7 647.4 L620.1 648.3 L621.6 647.5 L623.0 649.3 L624.5 649.0 L626.0 649.7 L627.4 648.2 L628.9 650.0 L630.3 649.6 L631.8 652.1 L633.3 651.5 L634.7 652.3 L636.2 650.4 L637.6 651.7 L639.1 651.5 L640.6 653.9 L642.1 653.1 L643.5 654.0 L645.0 652.5 L646.5 654.4 L647.9 654.1 L649.4 656.0 L650.9 654.3 L652.4 654.7 L653.8 653.4 L655.3 655.7 L656.8 655.8 L658.3 657.7 L659.7 656.2 L661.2 656.9 L662.7 655.6 L664.2 657.5 L665.6 657.1 L667.1 658.5 L668.6 657.0 L670.1 658.1 L671.6 657.8 L673.1 660.1 L674.6 659.1 L676.0 659.8 L677.5 657.6 L679.0 658.7 L680.5 658.5 L682.0 660.5 L683.5 659.7 L685.0 660.8 L686.5 659.3 L688.0 660.8 L689.4 660.1 L690.9 661.7 L692.4 660.5 L693.9 661.2 L695.4 660.0 L696.8 662.4 L698.3 662.2 L699.8 664.3 L701.3 662.2 L702.7 662.7 L704.2 661.7 L705.7 663.8 L707.2 663.2 L708.7 664.6 L710.1 663.5 L711.6 664.5 L713.1 664.3 L714.6 666.2 L716.0 665.3 L717.5 666.1 L719.0 664.2 L720.5 665.2 L722.0 665.3 L723.4 668.0 L724.9 667.0 L726.4 668.0 L727.9 666.4 L729.3 667.9 L730.8 667.1 L732.3 668.8 L733.8 667.6 L735.3 668.4 L736.7 667.4 L738.2 669.5 L739.7 669.6 L741.2 671.0 L742.7 669.3 L744.2 669.4 L745.6 668.6 L747.1 670.5 L748.6 670.5 L750.1 671.7 L751.6 670.3 L753.1 671.3 L754.5 670.9 L756.0 672.6 L757.5 671.7 L759.0 672.3 L760.5 670.6 L762.0 672.2 L763.5 672.1 L764.9 674.4 L766.4 673.4 L767.9 674.3 L769.4 672.5 L770.9 673.5 L772.4 673.3 L773.8 675.0 L775.3 673.8 L776.8 674.7 L778.3 673.8 L779.8 675.9 L781.3 675.4 L782.8 676.7 L784.3 674.8 L785.8 675.2 L787.3 673.8 L788.8 676.1 L790.2 675.8 L791.7 677.5 L793.2 675.8 L794.7 676.7 L796.2 675.8 L797.7 677.4 L799.2 676.4 L800.7 677.1 L802.2 675.4 L803.7 677.0 L805.2 676.7 L806.7 679.2 L808.2 678.1 L809.7 678.2 L811.2 676.3 L812.7 677.7 L814.2 677.2 L815.7 679.1 L817.1 677.9 L818.6 678.9 L820.1 677.7 L821.6 679.7 L823.1 679.1 L824.6 680.2 L826.1 677.9 L827.6 678.7 L829.1 678.0 L830.6 680.1 L832.1 679.9 L833.6 681.0 L835.1 679.0 L836.6 680.1 L838.1 679.4 L839.6 680.9 L841.1 680.1 L842.6 680.8 L844.1 679.4 L845.5 680.8 L847.0 680.8 L848.5 682.7 L850.0 681.3 L851.5 681.4 L853.0 679.5 L854.5 681.4 L856.0 681.4 L857.5 683.0 L859.0 681.5 L860.5 682.3 L862.0 681.0 L863.5 683.3 L865.0 682.2 L866.5 683.0 L868.0 681.2 L869.5 682.2 L871.0 682.0 L872.5 684.4 L874.0 683.6 L875.5 684.0 L877.0 682.2 L878.5 683.0 L880.0 682.3 L881.4 684.3 L882.9 683.1 L884.4 683.9 L885.9 682.8 L887.4 684.4 L888.9 684.0 L890.4 685.7 L891.9 683.4 L893.4 683.7 L894.9 682.7 L896.4 684.5 L897.9 684.5 L899.4 686.0 L900.9 684.4 L902.4 685.1 L903.9 684.0 L905.4 685.8 L906.9 684.7 L908.4 685.5 L909.9 683.6 L911.4 685.3 L912.9 685.3 L914.4 687.1 L915.9 686.0 L917.4 686.3 L918.9 684.3 L920.4 685.5 L921.9 685.3 L923.4 687.2 L924.9 685.9 L926.4 686.7 L927.9 685.2 L929.4 687.2 L930.9 686.6 L932.4 687.8 L933.9 685.5 L935.4 686.3 L936.9 685.5 L938.4 687.6 L939.9 687.2 L941.3 688.1 L942.8 686.2 L944.3 686.9 L945.8 686.2 L947.3 687.9 L948.8 686.8 L950.3 687.8 L951.8 686.1 L953.3 687.9 L954.8 687.6 L956.3 689.5 L957.8 687.9 L959.3 687.8 L960.8 686.0 L962.3 687.7 L963.8 687.5 L965.3 689.3 L966.8 688.1 L968.3 688.4 L969.8 687.3 L971.3 689.5 L972.8 688.4 L974.3 689.3 L975.8 687.3 L977.3 688.4 L978.8 687.7 L980.3 690.0 L981.8 689.6 L983.3 690.1 L984.8 688.1 L986.3 688.9 L987.8 688.2 L989.3 689.9 L990.8 688.8 L992.3 689.5 L993.8 688.3 L995.3 689.9 L996.8 689.5 L998.3 690.9 L999.8 688.8 L1001.3 689.1 L1002.8 687.8 L1004.3 690.3 L1005.8 690.0 L1007.3 691.1 L1008.8 689.7 L1010.3 690.3 L1011.8 689.3 L1013.3 690.9 L1014.8 690.1 L1016.3 690.7 L1017.8 688.8 L1019.3 690.3 L1020.8 690.0 L1022.3 692.0 L1023.8 690.8 L1025.3 691.0 L1026.8 688.9 L1028.3 690.7 L1029.8 689.9 L1031.3 692.0 L1032.8 690.8 L1034.3 691.3 L1035.8 690.0 L1037.3 691.9 L1038.8 691.1 L1040.3 692.1 L1041.8 690.2 L1043.3 691.0 L1044.8 690.0 L1046.3 692.4 L1047.8 692.2 L1049.3 692.8 L1050.8 691.1 L1052.3 691.8 L1053.8 690.6 L1055.3 692.4 L1056.8 691.3 L1058.3 692.1 L1059.8 690.7 L1061.3 692.7 L1062.7 692.3 L1064.2 694.1 L1065.7 692.2 L1067.2 692.2 L1068.7 690.8 L1070.2 692.5 L1071.7 692.5 L1073.2 694.2 L1074.7 692.8 L1076.2 693.4 L1077.7 692.2 L1079.2 693.7 L1080.7 693.0 L1082.2 693.7 L1083.7 691.9 L1085.2 693.1 L1086.7 692.6 L1088.2 695.0 L1089.7 694.4 L1091.2 694.8 L1092.7 692.9 L1094.2 693.7 L1095.7 693.2 L1097.2 695.0 L1098.7 693.9 L1100.2 694.6 L1101.7 693.2 L1103.2 694.8 L1104.7 694.7 L1106.2 696.0 L1107.7 693.9 L1109.2 694.3 L1110.7 692.7 L1112.2 695.0 L1113.7 695.0 L1115.2 696.0 L1116.7 694.2 L1118.2 694.8 L1119.7 693.9 L1121.2 695.6 L1122.7 694.8 L1124.2 695.4 L1125.7 693.9 L1127.2 695.1 L1128.7 694.8 L1130.2 696.8 L1131.7 695.7 L1133.2 695.8 L1134.7 693.9 L1136.2 694.9 L1137.7 694.9 L1139.2 696.8 L1140.7 695.4 L1142.2 696.3 L1143.7 695.0 L1145.2 696.7 L1146.7 695.8 L1148.2 696.9 L1149.7 694.7 L1151.2 695.5 L1152.7 694.8 L1154.2 697.1 L1155.7 696.7 L1157.2 697.4 L1158.7 695.6 L1160.2 696.0 L1161.7 695.2 L1163.2 696.9 L1164.7 695.9 L1166.2 696.6 L1167.7 695.3 L1169.2 696.8 L1170.7 696.6 L1172.2 698.4 L1173.7 696.4 L1175.2 696.5 L1176.7 695.2 L1178.2 696.9 L1179.7 696.5 L1181.2 698.2 L1182.7 696.8 L1184.2 697.6 L1185.7 696.1 L1187.2 697.9 L1188.7 697.0 L1190.1 697.9 L1191.6 695.9 L1193.1 696.9 L1194.6 696.5 L1196.1 699.0 L1197.6 698.2 L1199.1 698.5 L1200.6 696.6 L1202.1 697.6 L1203.6 696.8 L1205.1 698.7 L1206.6 697.8 L1208.1 698.3 L1209.6 697.3 L1211.1 698.7 L1212.6 698.4 L1214.1 699.8 L1215.6 697.3 L1217.1 698.0 L1218.6 696.7 L1220.1 698.9 L1221.6 698.5 L1223.1 700.2 L1224.6 698.0 L1226.1 698.7 L1227.6 697.6 L1229.1 699.3 L1230.6 698.1 L1232.1 699.2 L1233.6 697.5 L1235.1 698.8 L1236.6 698.5 L1238.1 700.2 L1239.6 698.8 L1241.1 699.2 L1242.6 697.0 L1244.1 698.3 L1245.6 698.0 L1247.1 700.3 L1248.6 698.6 L1250.1 699.5 L1251.6 697.9 L1253.1 699.9 L1254.6 698.9 L1256.1 699.9 L1257.6 697.7 L1259.1 698.7 L1260.6 697.7 L1262.1 700.1 L1263.6 699.5 L1265.1 700.5 L1266.6 698.2 L1268.1 698.8 L1269.6 697.9 L1271.1 700.2 L1272.6 699.1 L1274.1 700.0 L1275.6 698.4 L1277.1 699.8 L1278.6 699.6 L1280.1 701.0 L1281.6 699.3 L1283.1 699.7 L1284.6 697.8 L1286.1 699.9 L1287.6 699.7 L1289.1 701.5 L1290.6 699.6 L1292.1 700.4 L1293.6 698.8 L1295.1 700.9 L1296.6 700.0 L1298.1 700.6 L1299.6 698.8 L1301.1 700.2 L1302.6 699.8 L1304.1 702.0 L1305.6 700.8 L1307.1 701.5 L1308.6 699.4 L1310.1 700.2 L1311.6 699.9 L1313.1 701.5 L1314.6 700.4 L1316.1 701.3 L1317.6 699.9 L1319.1 701.6 L1320.6 701.2 L1322.1 702.4 L1323.6 700.8 L1325.1 701.4 L1326.5 700.2 L1328.0 702.5 L1329.5 702.8 L1331.0 702.5" fill="none" stroke="#000" stroke-width="6.1" stroke-linejoin="round" shape-rendering="crispEdges"/>
<path d="M162.0 1167.4 L163.5 1167.3 L164.9 1165.9 L166.4 1166.9 L167.9 1165.9 L169.0 1165.8 L169.7 1163.4 L170.5 1162.8 L171.2 1160.5 L171.9 1160.0 L172.7 1158.1 L173.4 1157.7 L174.0 1156.0 L174.3 1155.3 L174.6 1153.3 L174.9 1152.9 L175.2 1150.5 L175.6 1150.1 L175.9 1147.7 L176.2 1147.2 L176.5 1144.7 L176.8 1144.2 L177.2 1141.8 L177.7 1140.8 L178.2 1138.5 L178.7 1137.4 L179.2 1135.2 L179.7 1134.4 L180.3 1131.8 L180.8 1131.2 L181.3 1129.0 L181.8 1128.7 L182.3 1126.4 L182.7 1126.1 L183.0 1124.0 L183.4 1123.4 L183.8 1121.3 L184.2 1120.8 L184.6 1118.6 L185.0 1118.0 L185.5 1115.9 L186.6 1115.6 L187.7 1113.4 L188.7 1112.9 L189.8 1111.1 L190.7 1111.0 L191.5 1109.0 L192.3 1108.7 L193.0 1106.5 L193.8 1106.0 L194.5 1103.4 L195.6 1102.7 L196.9 1101.1 L198.1 1101.1 L199.3 1099.9 L200.5 1100.4 L201.7 1099.1 L203.1 1098.8 L204.4 1096.5 L205.7 1096.4 L207.1 1095.2 L208.4 1095.7 L209.8 1094.3 L211.1 1094.4 L212.5 1092.5 L213.8 1092.5 L215.1 1091.6 L216.5 1092.0 L217.8 1090.8 L219.2 1090.4 L220.5 1088.5 L221.9 1088.2 L223.2 1086.9 L224.7 1088.2 L226.2 1087.5 L227.7 1088.0 L229.1 1086.3 L230.6 1086.6 L232.1 1085.9 L233.5 1086.4 L235.0 1085.5 L236.5 1085.2 L237.9 1083.9 L239.4 1084.3 L240.8 1083.9 L242.3 1085.1 L243.7 1083.5 L245.2 1083.3 L246.7 1081.5 L248.1 1082.0 L249.6 1081.5 L251.0 1082.2 L252.5 1081.0 L253.9 1081.1 L255.4 1079.8 L256.8 1080.5 L258.3 1079.7 L259.7 1080.1 L261.1 1078.2 L262.6 1078.0 L264.0 1076.8 L265.5 1077.7 L266.9 1077.2 L268.3 1077.7 L269.8 1075.9 L271.2 1075.8 L272.6 1074.5 L274.1 1074.9 L275.6 1074.5 L277.1 1075.1 L278.6 1073.8 L280.1 1074.3 L281.6 1073.8 L283.1 1075.2 L284.6 1074.5 L286.1 1074.4 L287.6 1073.1 L289.1 1073.6 L290.6 1073.1 L292.1 1074.5 L293.6 1073.6 L295.1 1073.9 L296.5 1072.9 L298.0 1073.3 L299.5 1072.7 L301.0 1073.3 L302.5 1071.8 L304.0 1071.9 L305.5 1070.9 L306.9 1072.1 L308.4 1071.8 L309.9 1072.4 L311.4 1070.9 L312.9 1070.9 L314.4 1069.9 L315.8 1070.6 L317.3 1070.1 L318.8 1070.7 L320.3 1069.5 L321.8 1070.2 L323.3 1069.8 L324.8 1070.8 L326.3 1069.9 L327.8 1069.8 L329.3 1068.4 L330.8 1069.2 L332.3 1068.9 L333.8 1070.3 L335.3 1069.4 L336.8 1069.5 L338.3 1068.1 L339.8 1069.0 L341.3 1068.7 L342.8 1069.2 L344.3 1068.0 L345.8 1068.2 L347.3 1067.5 L348.8 1068.9 L350.3 1068.7 L351.8 1069.0 L353.3 1067.5 L354.8 1067.5 L356.3 1066.9 L357.8 1068.0 L359.3 1067.8 L360.8 1068.2 L362.3 1067.1 L363.8 1068.0 L365.3 1067.5 L366.8 1068.4 L368.3 1067.5 L369.8 1067.6 L371.3 1066.3 L372.8 1067.7 L374.3 1067.4 L375.8 1068.8 L377.3 1067.7 L378.8 1067.8 L380.3 1066.6 L381.8 1067.6 L383.3 1067.3 L384.8 1068.1 L386.3 1066.8 L387.8 1067.3 L389.3 1067.1 L390.8 1068.5 L392.3 1067.7 L393.8 1068.0 L395.3 1066.5 L396.8 1066.9 L398.3 1066.7 L399.8 1068.0 L401.3 1067.4 L402.8 1067.9 L404.3 1067.0 L405.8 1067.9 L407.3 1067.4 L408.9 1068.2 L410.4 1067.3 L411.9 1067.5 L413.4 1066.7 L414.9 1068.1 L416.4 1068.1 L417.9 1069.1 L419.4 1067.6 L420.9 1067.8 L422.4 1067.1 L423.9 1068.5 L425.3 1068.1 L426.8 1068.8 L428.3 1067.8 L429.8 1068.9 L431.3 1068.4 L432.8 1069.9 L434.3 1069.0 L435.8 1069.3 L437.3 1068.0 L438.8 1068.9 L440.3 1069.0 L441.8 1070.6 L443.3 1069.8 L444.8 1069.8 L446.3 1069.0 L447.8 1069.8 L449.3 1069.5 L450.8 1070.2 L452.3 1069.0 L453.8 1069.6 L455.3 1069.0 L456.8 1070.6 L458.3 1070.3 L459.8 1070.7 L461.3 1069.2 L462.8 1069.7 L464.3 1069.4 L465.8 1071.0 L467.3 1070.6 L468.8 1071.5 L470.3 1070.3 L471.8 1071.5 L473.3 1071.3 L474.8 1072.6 L476.2 1071.6 L477.7 1072.0 L479.2 1071.0 L480.7 1072.3 L482.2 1072.4 L483.7 1073.7 L485.2 1072.7 L486.7 1072.8 L488.2 1071.8 L489.7 1072.9 L491.2 1072.7 L492.7 1073.4 L494.2 1072.3 L495.7 1073.0 L497.2 1072.8 L498.7 1074.2 L500.2 1073.7 L501.7 1074.0 L503.2 1072.4 L504.7 1073.1 L506.2 1073.2 L507.7 1074.6 L509.2 1074.1 L510.7 1074.7 L512.2 1073.9 L513.7 1074.8 L515.2 1074.5 L516.7 1075.7 L518.1 1074.7 L519.6 1074.9 L521.1 1074.4 L522.6 1075.9 L524.1 1075.9 L525.6 1076.9 L527.1 1075.5 L528.6 1076.0 L530.1 1075.1 L531.6 1076.8 L533.1 1076.5 L534.6 1077.4 L536.1 1076.3 L537.6 1077.0 L539.1 1076.7 L540.6 1078.1 L542.1 1077.6 L543.5 1077.7 L545.0 1076.7 L546.5 1078.0 L547.9 1078.0 L549.4 1079.9 L550.9 1079.5 L552.3 1080.3 L553.8 1079.2 L555.2 1080.5 L556.7 1080.3 L558.1 1081.6 L559.6 1081.1 L561.1 1081.8 L562.5 1081.3 L564.0 1083.1 L565.4 1083.0 L566.9 1084.5 L568.3 1083.4 L569.8 1083.7 L571.3 1083.1 L572.7 1084.8 L574.2 1085.1 L575.6 1086.3 L577.1 1085.6 L578.5 1086.3 L580.0 1086.1 L581.5 1087.6 L582.9 1087.2 L584.4 1087.9 L585.8 1086.9 L587.3 1088.1 L588.7 1088.1 L590.2 1090.1 L591.6 1089.9 L593.1 1090.6 L594.5 1089.7 L596.0 1090.6 L597.4 1090.3 L598.9 1092.0 L600.3 1091.8 L601.8 1092.7 L603.2 1091.7 L604.7 1093.1 L606.2 1093.3 L607.6 1094.9 L609.1 1094.1 L610.5 1094.4 L612.0 1093.4 L613.4 1095.1 L614.9 1095.3 L616.4 1097.0 L617.8 1096.4 L619.3 1097.0 L620.7 1096.2 L622.2 1097.5 L623.6 1097.6 L625.1 1098.6 L626.5 1097.9 L628.0 1098.4 L629.5 1098.5 L630.9 1100.2 L632.4 1100.4 L633.8 1101.2 L635.3 1100.2 L636.7 1101.0 L638.2 1100.4 L639.6 1102.1 L641.1 1102.0 L642.5 1103.2 L644.0 1102.5 L645.4 1103.5 L646.9 1103.5 L648.4 1105.0 L649.8 1104.6 L651.3 1105.0 L652.7 1103.9 L654.2 1105.3 L655.6 1105.3 L657.1 1107.3 L658.5 1106.9 L660.0 1107.7 L661.5 1106.5 L662.9 1107.6 L664.4 1107.5 L665.8 1109.0 L667.3 1108.5 L668.7 1109.3 L670.2 1108.7 L671.7 1110.4 L673.1 1110.4 L674.6 1111.8 L676.0 1110.9 L677.5 1111.0 L679.0 1110.5 L680.4 1112.1 L681.9 1112.4 L683.3 1113.5 L684.8 1113.1 L686.3 1113.5 L687.7 1113.1 L689.2 1114.4 L690.7 1114.4 L692.1 1115.0 L693.6 1113.9 L695.1 1115.1 L696.6 1115.0 L698.0 1116.6 L699.5 1116.4 L701.0 1117.4 L702.4 1116.2 L703.9 1116.8 L705.4 1116.6 L706.9 1118.0 L708.4 1117.6 L709.8 1118.3 L711.3 1117.6 L712.8 1118.7 L714.3 1118.9 L715.8 1119.9 L717.2 1119.1 L718.7 1119.3 L720.2 1118.4 L721.7 1119.9 L723.2 1120.0 L724.7 1121.5 L726.1 1120.6 L727.6 1121.2 L729.1 1120.6 L730.6 1122.0 L732.0 1121.6 L733.5 1122.4 L735.0 1121.7 L736.5 1122.5 L737.9 1122.4 L739.4 1124.2 L740.9 1124.0 L742.4 1124.6 L743.8 1123.1 L745.3 1123.9 L746.8 1123.8 L748.3 1125.4 L749.7 1125.1 L751.2 1126.1 L752.7 1125.1 L754.2 1126.3 L755.6 1126.4 L757.1 1127.6 L758.6 1126.6 L760.0 1127.0 L761.5 1126.4 L763.0 1127.9 L764.5 1128.3 L765.9 1129.6 L767.4 1128.8 L768.9 1129.0 L770.4 1128.2 L771.9 1129.5 L773.4 1129.2 L774.8 1130.2 L776.3 1129.3 L777.8 1130.1 L779.3 1130.0 L780.8 1131.6 L782.3 1131.1 L783.7 1131.8 L785.2 1130.3 L786.7 1131.0 L788.2 1131.0 L789.7 1132.7 L791.2 1132.4 L792.7 1133.0 L794.1 1132.2 L795.6 1133.2 L797.1 1132.7 L798.6 1134.1 L800.1 1133.0 L801.6 1133.7 L803.1 1133.0 L804.5 1134.4 L806.0 1134.6 L807.5 1135.7 L809.0 1134.7 L810.5 1134.8 L812.0 1134.2 L813.5 1135.3 L815.0 1135.2 L816.5 1136.2 L818.0 1135.0 L819.5 1135.8 L821.0 1135.6 L822.5 1136.7 L824.0 1136.2 L825.5 1136.6 L827.0 1135.3 L828.5 1136.1 L830.0 1136.0 L831.5 1137.7 L832.9 1137.1 L834.4 1137.3 L835.9 1136.3 L837.4 1137.1 L838.9 1136.9 L840.4 1137.9 L841.9 1137.0 L843.4 1137.3 L844.9 1136.7 L846.4 1138.3 L847.9 1138.0 L849.4 1138.9 L850.9 1137.5 L852.4 1137.9 L853.9 1137.0 L855.4 1138.7 L856.9 1138.6 L858.4 1139.3 L859.9 1138.2 L861.4 1139.0 L862.9 1138.8 L864.4 1140.0 L865.9 1138.9 L867.4 1139.3 L868.9 1138.3 L870.4 1139.5 L871.9 1139.6 L873.4 1140.9 L874.9 1140.1 L876.4 1140.6 L877.9 1139.4 L879.3 1140.4 L880.8 1140.3 L882.3 1141.2 L883.8 1140.3 L885.3 1141.0 L886.8 1140.7 L888.3 1142.2 L889.8 1142.0 L891.3 1142.3 L892.8 1141.2 L894.3 1141.4 L895.8 1141.2 L897.3 1143.0 L898.8 1142.7 L900.3 1143.3 L901.8 1142.1 L903.3 1143.0 L904.7 1142.7 L906.2 1143.7 L907.7 1143.1 L909.2 1143.6 L910.7 1142.7 L912.2 1143.9 L913.7 1143.9 L915.2 1145.3 L916.7 1143.9 L918.2 1144.2 L919.7 1143.1 L921.2 1144.5 L922.7 1144.3 L924.2 1145.3 L925.7 1144.2 L927.2 1145.0 L928.7 1144.6 L930.2 1145.7 L931.7 1145.1 L933.2 1145.5 L934.7 1144.1 L936.2 1144.9 L937.7 1144.9 L939.2 1146.4 L940.7 1145.9 L942.2 1146.5 L943.7 1145.2 L945.2 1146.0 L946.7 1145.6 L948.2 1146.5 L949.7 1145.6 L951.2 1146.1 L952.7 1145.5 L954.2 1146.8 L955.7 1146.6 L957.2 1147.6 L958.7 1146.1 L960.2 1146.1 L961.7 1145.5 L963.2 1147.1 L964.7 1146.7 L966.2 1147.8 L967.7 1146.6 L969.2 1147.3 L970.7 1146.6 L972.2 1147.9 L973.7 1147.2 L975.2 1147.4 L976.7 1146.3 L978.2 1147.3 L979.7 1147.5 L981.2 1148.7 L982.7 1147.8 L984.2 1148.1 L985.7 1146.8 L987.2 1148.0 L988.7 1147.5 L990.2 1148.6 L991.7 1147.6 L993.2 1148.4 L994.7 1147.5 L996.2 1149.2 L997.7 1148.6 L999.2 1149.2 L1000.7 1147.7 L1002.2 1148.1 L1003.7 1147.7 L1005.2 1149.4 L1006.7 1149.0 L1008.2 1149.5 L1009.7 1148.3 L1011.2 1149.0 L1012.7 1148.5 L1014.2 1149.7 L1015.7 1148.5 L1017.2 1149.1 L1018.7 1148.2 L1020.2 1149.5 L1021.7 1149.2 L1023.2 1150.5 L1024.7 1149.1 L1026.2 1149.1 L1027.7 1148.1 L1029.2 1149.5 L1030.7 1149.3 L1032.2 1150.2 L1033.7 1149.1 L1035.2 1149.9 L1036.7 1149.2 L1038.2 1150.5 L1039.7 1150.0 L1041.2 1150.2 L1042.7 1149.1 L1044.2 1149.7 L1045.7 1149.9 L1047.2 1151.4 L1048.7 1150.8 L1050.2 1150.9 L1051.7 1149.9 L1053.2 1150.7 L1054.7 1150.3 L1056.2 1151.3 L1057.7 1150.4 L1059.2 1151.0 L1060.7 1150.1 L1062.2 1151.6 L1063.7 1151.4 L1065.2 1152.3 L1066.7 1150.7 L1068.2 1151.1 L1069.7 1150.3 L1071.2 1151.8 L1072.7 1151.5 L1074.2 1152.5 L1075.7 1151.4 L1077.2 1152.0 L1078.7 1151.4 L1080.2 1152.7 L1081.7 1151.8 L1083.2 1152.1 L1084.7 1151.0 L1086.2 1152.3 L1087.7 1152.4 L1089.2 1153.6 L1090.7 1152.7 L1092.2 1153.0 L1093.7 1151.6 L1095.2 1152.6 L1096.7 1152.3 L1098.2 1153.4 L1099.7 1152.5 L1101.2 1153.1 L1102.7 1152.5 L1104.2 1153.9 L1105.7 1153.6 L1107.2 1153.9 L1108.7 1152.4 L1110.2 1153.1 L1111.7 1152.8 L1113.2 1154.2 L1114.7 1153.8 L1116.2 1154.5 L1117.7 1153.2 L1119.2 1153.9 L1120.7 1153.2 L1122.2 1154.4 L1123.7 1153.6 L1125.2 1154.0 L1126.7 1152.9 L1128.2 1154.3 L1129.7 1154.4 L1131.2 1155.2 L1132.7 1153.9 L1134.2 1154.0 L1135.7 1153.1 L1137.2 1154.4 L1138.7 1154.2 L1140.2 1155.0 L1141.7 1153.9 L1143.2 1154.8 L1144.7 1154.1 L1146.2 1155.4 L1147.7 1154.7 L1149.2 1155.0 L1150.7 1153.6 L1152.2 1154.6 L1153.7 1154.3 L1155.2 1155.9 L1156.7 1155.0 L1158.2 1155.3 L1159.7 1154.3 L1161.2 1155.0 L1162.7 1154.5 L1164.2 1155.8 L1165.7 1154.6 L1167.2 1155.2 L1168.7 1154.4 L1170.2 1156.0 L1171.7 1155.7 L1173.2 1156.3 L1174.7 1154.7 L1176.2 1155.0 L1177.7 1154.4 L1179.2 1155.9 L1180.7 1155.8 L1182.2 1156.4 L1183.7 1155.2 L1185.2 1155.9 L1186.7 1155.5 L1188.2 1156.3 L1189.7 1155.7 L1191.2 1156.0 L1192.7 1154.8 L1194.2 1156.0 L1195.7 1156.1 L1197.2 1157.3 L1198.7 1156.3 L1200.2 1156.3 L1201.7 1155.0 L1203.2 1156.2 L1204.7 1156.0 L1206.2 1157.1 L1207.7 1155.9 L1209.2 1156.7 L1210.7 1155.9 L1212.2 1157.3 L1213.7 1156.6 L1215.2 1157.3 L1216.7 1155.8 L1218.2 1156.4 L1219.7 1156.1 L1221.2 1157.5 L1222.7 1157.3 L1224.2 1157.7 L1225.7 1156.2 L1227.3 1156.9 L1228.8 1156.6 L1230.3 1157.7 L1231.8 1156.5 L1233.3 1157.0 L1234.8 1156.2 L1236.3 1157.6 L1237.8 1157.6 L1239.3 1158.3 L1240.8 1157.0 L1242.3 1157.1 L1243.8 1156.3 L1245.3 1157.5 L1246.8 1157.5 L1248.3 1158.2 L1249.8 1157.3 L1251.3 1157.7 L1252.8 1157.2 L1254.3 1158.3 L1255.8 1157.6 L1257.3 1157.9 L1258.8 1156.5 L1260.3 1157.7 L1261.8 1157.5 L1263.3 1159.1 L1264.8 1158.3 L1266.3 1158.4 L1267.8 1157.2 L1269.3 1157.9 L1270.8 1157.9 L1272.3 1158.8 L1273.8 1157.6 L1275.3 1158.3 L1276.8 1157.7 L1278.3 1159.0 L1279.8 1158.7 L1281.3 1159.2 L1282.8 1157.7 L1284.3 1157.9 L1285.8 1157.4 L1287.3 1159.2 L1288.8 1159.0 L1290.3 1159.5 L1291.8 1158.1 L1293.3 1158.8 L1294.8 1158.3 L1296.3 1159.6 L1297.8 1158.5 L1299.3 1158.8 L1300.8 1157.9 L1302.3 1159.2 L1303.8 1159.1 L1305.3 1160.3 L1306.8 1158.9 L1308.3 1159.0 L1309.8 1158.1 L1311.3 1159.3 L1312.8 1158.9 L1314.3 1160.0 L1315.8 1158.8 L1317.3 1159.4 L1318.8 1158.8 L1320.3 1160.2 L1321.8 1159.5 L1323.3 1159.7 L1324.8 1158.5 L1326.3 1159.3 L1327.8 1158.9 L1329.3 1160.4 L1330.8 1160.0 L1332.3 1160.3 L1333.8 1158.9 L1335.3 1159.7 L1336.8 1159.2 L1338.3 1160.3 L1339.8 1159.4 L1341.3 1160.0 L1342.8 1159.1 L1344.3 1160.5 L1345.8 1160.3 L1347.3 1161.0 L1348.8 1159.5 L1350.3 1159.8 L1351.8 1159.1 L1353.3 1160.4 L1354.8 1160.2 L1356.3 1161.0 L1357.8 1159.7 L1359.3 1160.4 L1360.8 1160.0 L1362.4 1161.0 L1363.9 1160.1 L1365.4 1160.4 L1366.9 1159.2 L1368.4 1160.3 L1369.9 1160.5 L1371.4 1161.6 L1372.9 1160.7 L1374.4 1160.8 L1375.9 1159.7 L1377.4 1160.5 L1378.9 1160.4 L1380.4 1161.5 L1381.9 1160.3 L1383.4 1161.0 L1384.9 1160.2 L1386.4 1161.7 L1387.9 1161.0 L1389.4 1161.4 L1390.9 1159.9 L1392.4 1160.5 L1393.9 1160.2 L1395.4 1161.8 L1396.9 1161.1 L1398.4 1161.7 L1399.9 1160.6 L1401.4 1161.2 L1402.9 1160.5 L1404.4 1161.7 L1405.9 1160.5 L1407.4 1160.9 L1408.9 1160.2 L1410.4 1161.3 L1411.9 1161.5 L1413.4 1162.3 L1414.9 1160.9 L1416.4 1160.9 L1417.9 1160.1 L1419.4 1161.2 L1420.9 1161.0 L1422.4 1162.0 L1423.9 1160.6 L1425.4 1161.3 L1426.9 1160.6 L1428.4 1162.0 L1429.9 1161.3 L1431.4 1161.4 L1432.9 1160.2 L1434.4 1161.1 L1435.9 1160.7 L1437.4 1162.4 L1438.9 1161.7 L1440.4 1161.7 L1441.9 1160.6 L1443.4 1161.3 L1444.9 1160.8 L1446.4 1161.8 L1447.9 1160.9 L1449.4 1161.4 L1450.9 1160.8 L1452.4 1162.0 L1453.9 1161.6 L1455.4 1162.3 L1456.9 1160.8 L1458.4 1161.1 L1459.9 1160.4 L1461.4 1161.8 L1462.9 1161.6 L1464.5 1162.4 L1466.0 1160.9 L1467.5 1161.8 L1469.0 1161.1 L1470.5 1162.1 L1472.0 1161.4 L1473.5 1161.5 L1475.0 1160.4 L1476.5 1161.5 L1478.0 1161.5 L1479.5 1162.9 L1481.0 1161.6 L1482.5 1161.6 L1484.0 1160.5 L1485.5 1161.6 L1487.0 1161.3 L1488.5 1162.3 L1490.0 1161.2 L1491.5 1161.8 L1493.0 1161.1 L1494.5 1162.7 L1496.0 1161.7 L1497.5 1162.2 L1499.0 1160.8 L1500.5 1161.3 L1502.0 1161.1 L1503.5 1162.7 L1505.0 1162.0 L1506.5 1162.5 L1508.0 1161.0 L1509.5 1162.0 L1511.0 1161.3 L1512.5 1161.8" fill="none" stroke="#000" stroke-width="6.0" stroke-linejoin="round" shape-rendering="crispEdges"/>
<path d="M162.1 1533.6 L163.6 1533.9 L165.1 1533.2 L166.6 1534.0 L168.1 1533.2 L169.6 1534.0 L171.1 1533.4 L172.6 1534.0 L174.1 1533.4 L175.6 1533.9 L177.1 1533.4 L178.6 1534.0 L180.1 1533.4 L181.6 1533.9 L183.1 1533.5 L184.6 1534.0 L186.1 1533.4 L187.6 1534.0 L189.1 1533.4 L190.6 1534.0 L192.1 1533.5 L193.6 1534.0 L195.1 1533.4 L196.6 1534.1 L198.1 1533.4 L199.6 1534.1 L201.1 1533.6 L202.6 1534.2 L204.1 1533.5 L205.6 1534.1 L207.1 1533.6 L208.6 1534.1 L210.1 1533.5 L211.6 1534.3 L213.1 1533.6 L214.6 1534.3 L215.8 1534.6 L216.9 1536.1 L218.0 1536.1 L218.4 1535.2 L218.9 1533.2 L219.3 1532.4 L220.3 1530.8 L221.7 1530.7 L223.1 1529.7 L224.4 1529.6 L225.8 1528.3 L227.2 1528.4 L228.5 1527.2 L229.8 1528.7 L231.1 1528.8 L232.5 1530.0 L233.8 1530.3 L235.2 1531.2 L236.6 1531.0 L238.1 1532.1 L239.4 1531.2 L240.5 1531.0 L241.6 1529.2 L242.4 1528.6 L243.0 1526.7 L243.6 1525.8 L244.2 1523.8 L244.8 1523.2 L245.4 1521.1 L245.9 1520.3 L246.5 1518.4 L247.2 1517.6 L248.1 1515.8 L249.0 1515.3 L249.9 1513.4 L250.9 1512.9 L251.8 1511.1 L252.9 1510.6 L254.0 1509.1 L255.1 1508.7 L256.2 1507.1 L257.3 1506.5 L258.4 1505.1 L259.5 1504.7 L260.6 1502.9 L261.6 1502.4 L262.6 1500.6 L263.6 1500.3 L264.6 1498.5 L265.6 1497.9 L266.7 1496.2 L267.7 1495.7 L268.7 1494.2 L269.8 1493.7 L270.8 1492.0 L271.9 1491.5 L273.0 1489.8 L274.0 1489.3 L275.1 1487.8 L276.1 1487.3 L277.3 1485.8 L278.5 1485.3 L279.7 1483.9 L280.9 1483.6 L282.0 1482.1 L283.2 1481.8 L284.4 1480.2 L285.6 1479.8 L286.8 1478.4 L288.0 1478.2 L289.4 1476.8 L290.7 1476.7 L292.1 1475.6 L293.4 1475.5 L294.7 1474.1 L296.1 1474.0 L297.4 1472.8 L298.8 1472.8 L300.1 1471.6 L301.5 1471.5 L302.9 1470.4 L304.3 1470.4 L305.6 1469.2 L307.0 1469.2 L308.4 1468.1 L309.8 1467.9 L311.2 1466.8 L312.5 1466.8 L314.0 1465.7 L315.4 1465.9 L316.8 1464.7 L318.2 1464.8 L319.6 1463.6 L321.0 1463.7 L322.4 1462.6 L323.8 1462.6 L325.1 1461.4 L326.4 1461.1 L327.7 1459.7 L329.0 1459.7 L330.3 1458.3 L331.6 1458.2 L332.9 1456.9 L334.4 1457.4 L335.9 1456.5 L337.4 1456.8 L338.8 1456.0 L340.3 1456.4 L341.8 1455.7 L343.3 1456.6 L344.8 1456.1 L346.3 1456.8 L347.8 1456.3 L349.0 1457.5 L349.7 1458.4 L350.5 1460.3 L351.2 1460.9 L351.4 1463.1 L351.7 1464.0 L351.9 1466.0 L352.2 1466.9 L352.4 1468.8 L352.7 1469.9 L353.1 1471.7 L353.7 1472.6 L354.3 1474.6 L355.0 1475.3 L355.6 1477.2 L356.2 1478.0 L356.8 1480.0 L357.5 1480.7 L358.8 1481.6 L360.3 1481.1 L361.8 1481.7 L363.3 1481.1 L364.4 1481.2 L365.2 1479.3 L366.0 1478.7 L366.8 1476.7 L367.6 1476.0 L368.6 1474.4 L370.0 1474.5 L371.4 1473.4 L372.8 1473.6 L374.3 1473.2 L375.8 1474.0 L377.3 1473.7 L378.8 1474.5 L380.3 1474.0 L381.8 1474.7 L383.3 1474.4 L384.7 1475.2 L386.2 1474.8 L387.7 1475.5 L389.2 1475.0 L390.6 1476.3 L391.9 1476.4 L393.3 1477.5 L394.7 1477.5 L396.1 1478.8 L397.3 1478.9 L398.2 1480.7 L399.0 1481.5 L399.9 1483.3 L400.7 1483.9 L401.6 1485.8 L402.6 1486.1 L404.0 1487.3 L405.4 1487.4 L406.8 1488.4 L408.2 1488.3 L409.5 1489.6 L410.8 1488.6 L411.9 1488.3 L413.1 1486.7 L414.2 1486.3 L415.5 1485.2 L417.0 1485.7 L418.5 1485.1 L420.0 1485.6 L421.5 1485.1 L422.9 1486.1 L424.3 1486.1 L425.7 1487.2 L427.2 1487.2 L428.6 1488.2 L430.0 1488.2 L431.4 1489.2 L432.8 1489.2 L434.2 1490.3 L435.6 1490.3 L437.1 1491.2 L438.5 1491.1 L439.9 1492.3 L441.3 1492.1 L442.7 1493.3 L444.1 1493.1 L445.6 1494.2 L447.0 1494.1 L448.4 1495.3 L449.8 1495.1 L451.3 1496.2 L452.7 1496.0 L454.1 1497.0 L455.6 1496.7 L457.0 1497.9 L458.4 1497.6 L459.9 1498.6 L461.3 1498.5 L462.8 1499.5 L464.2 1499.3 L465.6 1500.6 L467.1 1500.2 L468.5 1501.3 L469.9 1501.1 L471.4 1502.1 L472.8 1501.9 L474.3 1503.0 L475.7 1503.0 L477.1 1504.0 L478.6 1503.7 L480.0 1504.8 L481.4 1504.5 L482.9 1505.6 L484.4 1505.2 L485.8 1506.2 L487.3 1506.0 L488.7 1507.0 L490.2 1506.9 L491.6 1507.8 L493.1 1507.7 L494.5 1508.5 L496.0 1508.3 L497.4 1509.2 L498.9 1509.2 L500.3 1510.1 L501.7 1510.1 L503.1 1511.2 L504.6 1510.9 L506.0 1512.2 L507.4 1511.9 L508.8 1513.1 L510.2 1513.0 L511.6 1514.1 L513.1 1513.9 L514.5 1514.9 L516.0 1514.5 L517.5 1515.4 L518.9 1515.2 L520.4 1516.1 L521.9 1515.7 L523.4 1516.7 L524.8 1516.2 L526.3 1517.1 L527.8 1516.9 L529.2 1517.8 L530.7 1517.4 L532.2 1518.4 L533.7 1518.2 L535.1 1519.1 L536.6 1518.7 L538.1 1519.6 L539.5 1519.2 L541.0 1520.1 L542.5 1519.8 L544.0 1520.7 L545.4 1520.5 L546.9 1521.2 L548.4 1520.8 L549.9 1521.8 L551.3 1521.5 L552.8 1522.3 L554.3 1522.1 L555.8 1522.9 L557.3 1522.4 L558.7 1523.4 L560.2 1523.0 L561.7 1523.8 L563.2 1523.6 L564.7 1524.4 L566.1 1524.0 L567.6 1524.9 L569.1 1524.5 L570.6 1525.3 L572.0 1525.0 L573.5 1525.9 L575.0 1525.6 L576.5 1526.5 L578.0 1526.1 L579.5 1526.9 L580.9 1526.4 L582.4 1527.3 L583.9 1526.9 L585.4 1527.5 L586.9 1527.1 L588.4 1527.9 L589.9 1527.6 L591.4 1528.3 L592.9 1528.0 L594.3 1528.7 L595.8 1528.4 L597.3 1529.2 L598.8 1528.7 L600.3 1529.5 L601.8 1529.0 L603.3 1529.9 L604.8 1529.4 L606.3 1530.1 L607.7 1529.7 L609.2 1530.5 L610.7 1530.1 L612.2 1531.0 L613.7 1530.5 L615.2 1531.4 L616.7 1530.9 L618.2 1531.7 L619.7 1531.2 L621.1 1532.0 L622.6 1531.7 L624.1 1532.4 L625.6 1532.0 L627.1 1532.7 L628.6 1532.5 L630.1 1533.3 L631.6 1532.8 L633.1 1533.5 L634.6 1533.2 L636.0 1533.9 L637.5 1533.6 L639.0 1534.3 L640.5 1533.9 L642.0 1534.6 L643.5 1534.1 L645.0 1534.9 L646.5 1534.5 L648.0 1535.2 L649.5 1534.7 L651.0 1535.2 L652.5 1534.8 L654.0 1535.6 L655.5 1535.1 L657.0 1535.7 L658.5 1535.2 L660.0 1536.0 L661.5 1535.5 L662.9 1536.2 L664.4 1535.8 L665.9 1536.5 L667.4 1536.0 L668.9 1536.7 L670.4 1536.3 L671.9 1537.0 L673.4 1536.4 L674.9 1537.1 L676.4 1536.7 L677.9 1537.5 L679.4 1537.0 L680.9 1537.7 L682.4 1537.0 L683.9 1537.7 L685.4 1537.4 L686.9 1538.0 L688.4 1537.6 L689.9 1538.2 L691.4 1537.8 L692.9 1538.5 L694.4 1538.1 L695.9 1538.7 L697.4 1538.3 L698.9 1539.0 L700.4 1538.4 L701.9 1539.1 L703.4 1538.8 L704.8 1539.3 L706.3 1538.9 L707.8 1539.5 L709.3 1539.0 L710.8 1539.7 L712.3 1539.0 L713.8 1539.7 L715.3 1539.3 L716.8 1539.9 L718.3 1539.3 L719.8 1540.1 L721.3 1539.4 L722.8 1540.0 L724.3 1539.6 L725.8 1540.3 L727.3 1539.6 L728.8 1540.3 L730.3 1539.7 L731.8 1540.4 L733.3 1539.7 L734.8 1540.5 L736.3 1540.0 L737.8 1540.6 L739.3 1539.9 L740.8 1540.6 L742.3 1540.0 L743.8 1540.6 L745.3 1540.0 L746.8 1540.6 L748.3 1540.1 L749.8 1540.6 L751.3 1539.9 L752.8 1540.5 L754.3 1540.1 L755.8 1540.7 L757.3 1539.9 L758.8 1540.5 L760.3 1540.0 L761.9 1540.7 L763.4 1540.0 L764.9 1540.6 L766.4 1540.1 L767.9 1540.6 L769.4 1540.0 L770.9 1540.7 L772.4 1540.1 L773.9 1540.7 L775.4 1540.0 L776.9 1540.7 L778.4 1540.2 L779.9 1540.6 L781.4 1540.1 L782.9 1540.7 L784.4 1540.1 L785.9 1540.6 L787.4 1540.0 L788.9 1540.6 L790.4 1540.0 L791.9 1540.6 L793.4 1540.1 L794.9 1540.8 L796.4 1540.2 L797.9 1540.7 L799.4 1540.2 L800.9 1540.8 L802.4 1540.2 L803.9 1540.7 L805.4 1540.1 L806.9 1540.6 L808.4 1540.1 L809.9 1540.7 L811.4 1540.1 L812.9 1540.6 L814.4 1540.1 L815.9 1540.7 L817.4 1540.1 L818.9 1540.8 L820.4 1540.2 L821.9 1540.8 L823.4 1540.2 L824.9 1540.8 L826.4 1540.3 L827.9 1541.0 L829.4 1540.4 L830.9 1541.0 L832.4 1540.4 L833.9 1540.9 L835.4 1540.5 L836.9 1541.0 L838.4 1540.4 L839.9 1541.0 L841.4 1540.5 L842.9 1541.2 L844.4 1540.6 L845.9 1541.1 L847.4 1540.6 L848.9 1541.2 L850.4 1540.5 L851.9 1541.3 L853.4 1540.7 L854.9 1541.3 L856.4 1540.7 L857.9 1541.2 L859.4 1540.7 L860.9 1541.4 L862.4 1540.8 L863.9 1541.4 L865.4 1540.7 L866.9 1541.3 L868.4 1540.7 L869.9 1541.3 L871.4 1540.9 L872.9 1541.5 L874.4 1541.0 L875.9 1541.5 L877.4 1541.0 L878.9 1541.5 L880.4 1541.1 L881.9 1541.5 L883.4 1541.1 L884.9 1541.5 L886.4 1541.1 L887.9 1541.6 L889.4 1541.1 L890.9 1541.6 L892.4 1541.0 L893.9 1541.7 L895.4 1541.2 L896.9 1541.7 L898.4 1541.1 L899.9 1541.7 L901.4 1541.2 L902.9 1541.7 L904.4 1541.1 L905.9 1541.8 L907.4 1541.2 L908.9 1542.0 L910.4 1541.4 L911.9 1541.8 L913.4 1541.3 L914.9 1541.9 L916.4 1541.3 L917.9 1541.9 L919.4 1541.4 L920.9 1541.9 L922.4 1541.4 L923.9 1541.9 L925.4 1541.4 L926.9 1542.0 L928.4 1541.5 L929.9 1542.1 L931.4 1541.5 L932.9 1542.1 L934.4 1541.5 L935.9 1542.0 L937.4 1541.6 L938.9 1542.1 L940.4 1541.5 L941.9 1542.2 L943.4 1541.6 L944.9 1542.1 L946.4 1541.5 L947.9 1542.1 L949.4 1541.5 L950.9 1542.3 L952.4 1541.5 L953.9 1542.3 L955.4 1541.7 L956.9 1542.3 L958.4 1541.6 L959.9 1542.2 L961.4 1541.6 L962.9 1542.3 L964.4 1541.6 L965.9 1542.3 L967.4 1541.8 L968.9 1542.4 L970.4 1541.8 L971.9 1542.3 L973.4 1541.7 L974.9 1542.3 L976.4 1541.8 L977.9 1542.5 L979.4 1541.9 L980.9 1542.5 L982.4 1541.9 L983.9 1542.4 L985.4 1541.8 L986.9 1542.5 L988.4 1542.0 L989.9 1542.4 L991.4 1541.8 L992.9 1542.5 L994.4 1541.9 L995.9 1542.5 L997.4 1541.9 L998.9 1542.6 L1000.4 1541.9 L1001.9 1542.6 L1003.4 1542.0 L1004.9 1542.6 L1006.4 1542.1 L1008.0 1542.7 L1009.5 1541.9 L1011.0 1542.7 L1012.5 1542.0 L1014.0 1542.7 L1015.5 1542.0 L1017.0 1542.6 L1018.5 1542.1 L1020.0 1542.8 L1021.5 1542.0 L1023.0 1542.8 L1024.5 1542.1 L1026.0 1542.7 L1027.5 1542.1 L1029.0 1542.8 L1030.5 1542.3 L1032.0 1542.8 L1033.5 1542.2 L1035.0 1542.9 L1036.5 1542.2 L1038.0 1542.9 L1039.5 1542.4 L1041.0 1542.8 L1042.5 1542.3 L1044.0 1542.8 L1045.5 1542.4 L1047.0 1542.8 L1048.5 1542.4 L1050.0 1543.0 L1051.5 1542.4 L1053.0 1543.1 L1054.5 1542.4 L1056.0 1543.1 L1057.5 1542.5 L1059.0 1543.0 L1060.5 1542.5 L1062.0 1542.9 L1063.5 1542.5 L1065.0 1543.0 L1066.5 1542.6 L1068.0 1543.2 L1069.5 1542.5 L1071.0 1543.0 L1072.5 1542.4 L1074.0 1543.1 L1075.5 1542.7 L1077.0 1543.1 L1078.5 1542.7 L1080.0 1543.3 L1081.5 1542.7 L1083.0 1543.3 L1084.5 1542.8 L1086.0 1543.3 L1087.5 1542.6 L1089.0 1543.3 L1090.5 1542.7 L1092.0 1543.5 L1093.5 1542.9 L1095.0 1543.5 L1096.5 1543.0 L1098.0 1543.5 L1099.5 1542.8 L1101.0 1543.6 L1102.5 1542.9 L1104.0 1543.6 L1105.5 1543.1 L1107.0 1543.6 L1108.5 1543.1 L1110.0 1543.6 L1111.5 1543.1 L1113.0 1543.7 L1114.5 1543.1 L1116.0 1543.8 L1117.5 1543.1 L1119.0 1543.8 L1120.5 1543.1 L1122.0 1543.9 L1123.5 1543.2 L1125.0 1543.8 L1126.5 1543.2 L1128.0 1543.9 L1129.5 1543.4 L1131.0 1543.9 L1132.5 1543.3 L1134.0 1544.1 L1135.5 1543.3 L1137.0 1543.7" fill="none" stroke="#000" stroke-width="6.3" stroke-linejoin="round" shape-rendering="crispEdges"/>
<g font-family="'Liberation Serif',serif" fill="#000">
<text x="676.6" y="216.9" font-size="58.6">Adsorption Heat = -10.974 J/g</text>
<text x="673.8" y="645.6" font-size="58.6">Adsorption Heat = -7.068 J/g</text>
<text x="673.0" y="1089.7" font-size="58.6">Adsorption Heat = -4.27 J/g</text>
<text x="678.0" y="1491.4" font-size="58.3">Adsorption Heat = -0.6 J/g</text>
<text x="1485.6" y="140.9" font-size="63.8">Dolomite with 10<tspan dx="-3.0" dy="-31" font-size="46.5">-2</tspan><tspan dx="0.5" dy="31" font-size="63.8"> M Fe</tspan><tspan dx="1.0" dy="-31" font-size="46.5">2</tspan><tspan dx="2.0" dy="1" font-size="46.5">+</tspan></text>
<text x="1488.0" y="560.9" font-size="63.8">Dolomite with<tspan dx="-7.2"> 3×</tspan><tspan dx="3">10</tspan><tspan dx="-1.4" dy="-31" font-size="46.5">-3</tspan><tspan dx="3.3" dy="31" font-size="63.8"> M Fe</tspan><tspan dx="-2.7" dy="-31" font-size="46.5">2</tspan><tspan dx="0.7" dy="1" font-size="46.5">+</tspan></text>
<text x="1482.5" y="994.6" font-size="63.8">Dolomite with 10<tspan dx="-3.0" dy="-31" font-size="46.5">-3</tspan><tspan dx="0.5" dy="31" font-size="63.8"> M Fe</tspan><tspan dx="1.0" dy="-31" font-size="46.5">2</tspan><tspan dx="2.0" dy="1" font-size="46.5">+</tspan></text>
<text x="1482.5" y="1379.0" font-size="63.8">Dolomite <tspan dx="-2.8" letter-spacing="-0.6">only</tspan></text>
<text x="354.7" y="1641.6" font-size="65.5" text-anchor="middle">12</text>
<text x="749.5" y="1640.5" font-size="65.5" text-anchor="middle">24</text>
<text x="1141.8" y="1640.0" font-size="65.5" text-anchor="middle">36</text>
<text x="1528.0" y="1632.8" font-size="65.5" text-anchor="middle">48</text>
<text x="1911.5" y="1634.6" font-size="65.5" text-anchor="middle">60</text>
<text x="955.4" y="1763.7" font-size="90.6">Time (minutes)</text>
<text transform="translate(101.2 932.5) rotate(-90)" font-size="93">Hf (mw)</text>
</g>
</svg>
</body></html>
